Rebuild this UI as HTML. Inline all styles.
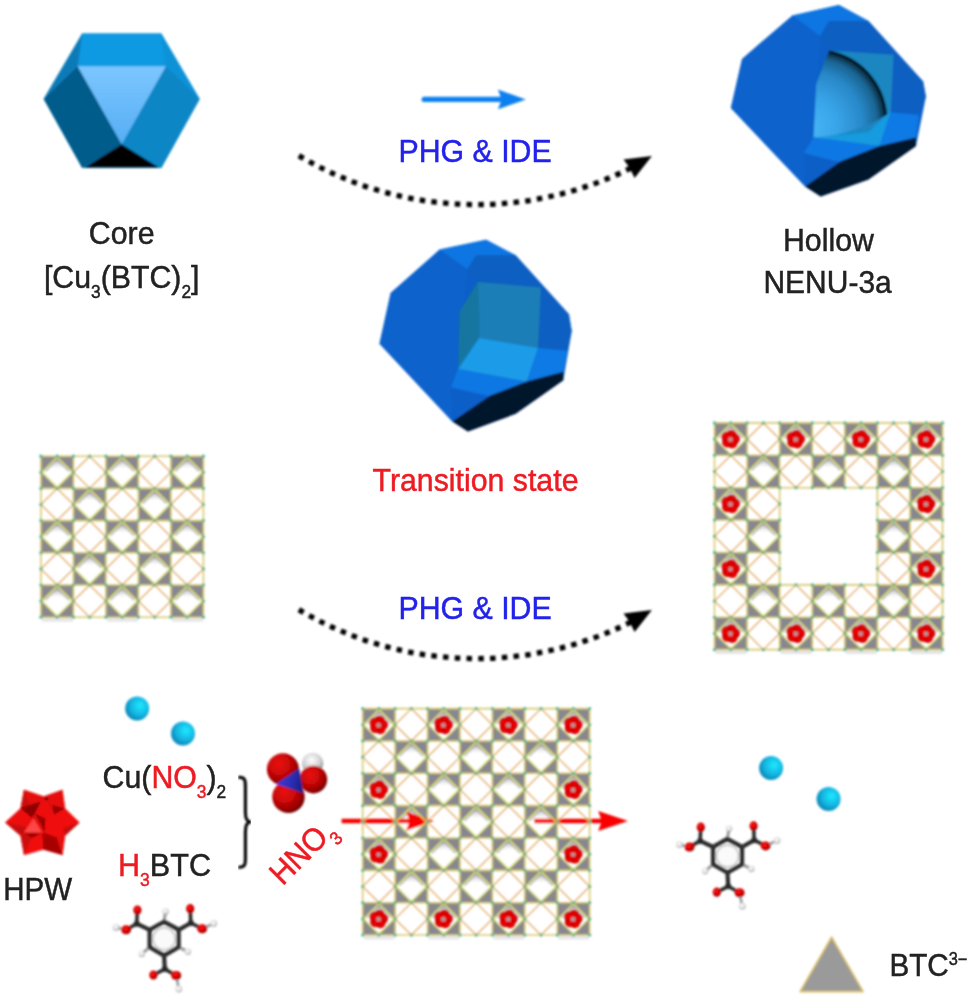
<!DOCTYPE html>
<html lang="en">
<head>
<meta charset="utf-8">
<title>Core to hollow NENU-3a schematic</title>
<style>
html,body{margin:0;padding:0;background:#ffffff;}
body{width:973px;height:998px;overflow:hidden;position:relative;font-family:"Liberation Sans",sans-serif;}
svg text{font-family:"Liberation Sans",sans-serif;}
</style>
</head>
<body>
<svg width="973" height="998" viewBox="0 0 973 998" style="position:absolute;left:0;top:0;display:block">
<defs>
<filter id="b5" x="-5%" y="-5%" width="110%" height="110%"><feGaussianBlur stdDeviation="0.8"/></filter>
<filter id="b6" x="-5%" y="-5%" width="110%" height="110%"><feGaussianBlur stdDeviation="1.0"/></filter>
<filter id="bg" x="-5%" y="-5%" width="110%" height="110%"><feGaussianBlur stdDeviation="0.95"/></filter>
<filter id="b8" x="-5%" y="-5%" width="110%" height="110%"><feGaussianBlur stdDeviation="1.05"/></filter>
<filter id="bt" x="-5%" y="-20%" width="110%" height="140%"><feGaussianBlur stdDeviation="0.65"/></filter>
<linearGradient id="dsh" x1="0" y1="0" x2="0" y2="1"><stop offset="0" stop-color="#88878f" stop-opacity="0.9"/><stop offset="0.1" stop-color="#908f98" stop-opacity="0.62"/><stop offset="0.22" stop-color="#a0a0a8" stop-opacity="0.3"/><stop offset="0.36" stop-color="#b0b0b8" stop-opacity="0"/></linearGradient>
<radialGradient id="redflower" cx="0.5" cy="0.5" r="0.5"><stop offset="0" stop-color="#f40000"/><stop offset="0.65" stop-color="#ea0000"/><stop offset="1" stop-color="#a80000"/></radialGradient>
<radialGradient id="cyan" cx="0.62" cy="0.38" r="0.72"><stop offset="0" stop-color="#1ee8fc"/><stop offset="0.3" stop-color="#18cdf0"/><stop offset="0.7" stop-color="#10a2d2"/><stop offset="1" stop-color="#0a78a4"/></radialGradient>
<radialGradient id="ored" cx="0.38" cy="0.34" r="0.72"><stop offset="0" stop-color="#ee1212"/><stop offset="0.5" stop-color="#c40606"/><stop offset="0.85" stop-color="#8a0101"/><stop offset="1" stop-color="#560000"/></radialGradient>
<radialGradient id="hwhite" cx="0.45" cy="0.35" r="0.7"><stop offset="0" stop-color="#ffffff"/><stop offset="0.6" stop-color="#d0d0d0"/><stop offset="1" stop-color="#6a6a6a"/></radialGradient>
<linearGradient id="nblue" x1="0" y1="0.4" x2="1" y2="0.6"><stop offset="0" stop-color="#3a3fe0"/><stop offset="0.6" stop-color="#2a2db0"/><stop offset="1" stop-color="#1c1e80"/></linearGradient>
<linearGradient id="tri" x1="0.5" y1="0" x2="0.5" y2="1"><stop offset="0" stop-color="#7cc6ff"/><stop offset="1" stop-color="#55aef4"/></linearGradient>
<radialGradient id="sph" gradientUnits="userSpaceOnUse" cx="816.1" cy="120.6" r="71.8" fx="804" fy="129"><stop offset="0" stop-color="#4ab8fa"/><stop offset="0.4" stop-color="#38a4e8"/><stop offset="0.7" stop-color="#2888c8"/><stop offset="0.87" stop-color="#1a6694"/><stop offset="0.94" stop-color="#0d3c58"/><stop offset="0.98" stop-color="#010a10"/><stop offset="1" stop-color="#000000"/></radialGradient>
<radialGradient id="mred" cx="0.42" cy="0.38" r="0.68"><stop offset="0" stop-color="#fa1414"/><stop offset="0.55" stop-color="#d80000"/><stop offset="1" stop-color="#7a0000"/></radialGradient>
<radialGradient id="hgr" cx="0.45" cy="0.4" r="0.65"><stop offset="0" stop-color="#ffffff"/><stop offset="0.55" stop-color="#e2e2e2"/><stop offset="1" stop-color="#8c8c8c"/></radialGradient>
</defs>
<rect width="973" height="998" fill="#ffffff"/>

<g filter="url(#b6)">
<polygon points="82.2,33.6 161.3,33.6 199.7,99.1 161.3,168.1 82.2,168.1 43.7,99.1" fill="#0c8cd2" />
<polygon points="82.2,33.6 161.3,33.6 165.8,66.3 77.7,66.3" fill="#0e9ae2" />
<polygon points="82.2,33.6 77.7,66.3 43.7,99.1" fill="#0a7ab8" />
<polygon points="161.3,33.6 199.7,99.1 165.8,66.3" fill="#1192d8" />
<polygon points="43.7,99.1 77.7,66.3 121.7,144.3 82.2,168.1" fill="#065b8b" />
<polygon points="199.7,99.1 165.8,66.3 121.7,144.3 161.3,168.1" fill="#0b86c6" />
<polygon points="77.7,66.3 165.8,66.3 121.7,144.3" fill="url(#tri)" />
<polygon points="121.7,144.3 159.0,167.4 84.4,167.4" fill="#000000" />
</g>
<g filter="url(#b5)">
<line x1="424.2" y1="99.4" x2="503" y2="99.4" stroke="#0d80f0" stroke-width="5.2" stroke-linecap="round"/>
<polygon points="525.8,99.4 498.0,89.6 501.5,99.4 498.0,109.2" fill="#0d80f0" />
</g>
<g filter="url(#b6)">
<path d="M298.88 155.62A345.74 345.74 0 0 0 631.96 167.51" fill="none" stroke="#000" stroke-width="5.3" stroke-dasharray="5.5 6.266"/>
<polygon points="651.9,155.9 623.5,159.6 629.4,167.4 634.6,178.1" fill="#000" />
<path d="M298.88 609.62A345.74 345.74 0 0 0 631.96 621.51" fill="none" stroke="#000" stroke-width="5.3" stroke-dasharray="5.5 6.266"/>
<polygon points="651.9,609.9 623.5,613.6 629.4,621.4 634.6,632.1" fill="#000" />
</g>
<g filter="url(#b8)">
<polygon points="792.6,15.4 838.9,5.1 868.4,21.0 923.1,81.4 925.9,96.8 916.0,145.9 868.4,179.6 820.7,196.4 805.2,186.6 730.9,108.0 742.1,58.9" fill="#0b5fc8" />
<polygon points="792.6,15.4 820.7,35.1 813.6,137.5 803.8,152.9 805.2,186.6 730.9,108.0 742.1,58.9" fill="#0c62cc" />
<polygon points="792.6,15.4 838.9,5.1 868.4,21.0 829.1,21.0 820.1,35.9" fill="#0c76e2" />
<polygon points="829.1,21.0 868.4,21.0 923.1,81.4 925.9,96.8 918.9,115.0 890.8,112.2 893.6,54.7 829.1,50.5 820.1,35.9" fill="#0a5fc2" />
<polygon points="829.1,50.5 893.6,54.7 890.8,112.2 879.6,145.9 813.6,137.5 816.4,84.2" fill="#1a86c0" />
<polygon points="813.6,137.5 879.6,145.9 890.8,112.2 885.2,115.6 868.4,131.9" fill="#189ae0" />
<path d="M829.1 50.5A71.3 71.3 0 0 1 887.1 114.5Q857.1 134.7 813.6 137.5L816.4 84.2Z" fill="url(#sph)"/>
<polygon points="890.8,112.2 918.9,115.0 916.0,138.0 879.6,145.9" fill="#0c7ae6" />
<polygon points="813.6,137.5 879.6,145.9 840.3,162.2 803.8,152.9" fill="#0c78e4" />
<polygon points="916.0,137.5 916.0,145.9 868.4,179.6 820.7,196.4 805.2,186.6 840.3,161.6 879.6,145.9" fill="#04142a" />
</g>
<g filter="url(#b8)">
<polygon points="439.8,249.6 486.1,239.8 515.6,255.3 568.9,314.2 571.7,331.0 563.3,380.2 515.6,413.8 467.9,431.5 452.4,421.4 379.5,343.7 390.7,293.1" fill="#0b5fc8" />
<polygon points="439.8,249.6 467.3,269.3 458.1,368.9 451.0,387.2 452.4,421.4 379.5,343.7 390.7,293.1" fill="#0c62cc" />
<polygon points="439.8,249.6 486.1,239.8 515.6,255.3 476.3,255.3 467.3,269.3" fill="#0c76e2" />
<polygon points="476.3,255.3 515.6,255.3 568.9,314.2 571.7,331.0 567.5,350.7 538.0,347.9 540.9,287.5 477.7,281.9 467.3,269.3" fill="#0a5fc2" />
<polygon points="477.7,281.9 540.9,287.5 538.0,347.9 479.1,338.1" fill="#1a7eb6" />
<polygon points="477.7,281.9 479.1,338.1 458.1,368.9 459.5,311.4" fill="#13769f" />
<polygon points="479.1,338.1 538.0,347.9 526.8,381.6 458.1,368.9" fill="#1a9ce8" />
<polygon points="538.0,347.9 567.5,350.7 563.3,372.3 526.8,381.6" fill="#0c7ae6" />
<polygon points="458.1,368.9 526.8,381.6 490.3,396.2 451.0,387.2" fill="#0c78e4" />
<polygon points="563.3,371.7 563.3,380.2 515.6,413.8 467.9,431.5 452.4,421.4 490.3,395.6 526.8,381.6" fill="#04142a" />
</g>
<g filter="url(#bg)">
<rect x="41.90" y="618.40" width="31.00" height="3.2" fill="#e4e4e8"/>
<rect x="106.90" y="618.40" width="31.00" height="3.2" fill="#e4e4e8"/>
<rect x="171.90" y="618.40" width="31.00" height="3.2" fill="#e4e4e8"/>
<rect x="40.90" y="456.20" width="32.50" height="32.20" fill="#88878f"/>
<polygon points="57.1,457.8 71.8,472.3 57.1,486.8 42.5,472.3" fill="#ffffff" />
<polygon points="57.1,457.8 71.8,472.3 57.1,486.8 42.5,472.3" fill="url(#dsh)" />
<path d="M44.50 470.30L57.15 457.80L69.80 470.30" fill="none" stroke="#8c8b94" stroke-opacity="0.5" stroke-width="4.6" stroke-linejoin="miter"/>
<rect x="105.90" y="456.20" width="32.50" height="32.20" fill="#88878f"/>
<polygon points="122.2,457.8 136.8,472.3 122.2,486.8 107.5,472.3" fill="#ffffff" />
<polygon points="122.2,457.8 136.8,472.3 122.2,486.8 107.5,472.3" fill="url(#dsh)" />
<path d="M109.50 470.30L122.15 457.80L134.80 470.30" fill="none" stroke="#8c8b94" stroke-opacity="0.5" stroke-width="4.6" stroke-linejoin="miter"/>
<rect x="170.90" y="456.20" width="32.50" height="32.20" fill="#88878f"/>
<polygon points="187.2,457.8 201.8,472.3 187.2,486.8 172.5,472.3" fill="#ffffff" />
<polygon points="187.2,457.8 201.8,472.3 187.2,486.8 172.5,472.3" fill="url(#dsh)" />
<path d="M174.50 470.30L187.15 457.80L199.80 470.30" fill="none" stroke="#8c8b94" stroke-opacity="0.5" stroke-width="4.6" stroke-linejoin="miter"/>
<rect x="73.40" y="488.40" width="32.50" height="32.20" fill="#88878f"/>
<polygon points="89.7,490.0 104.3,504.5 89.7,519.0 75.0,504.5" fill="#ffffff" />
<polygon points="89.7,490.0 104.3,504.5 89.7,519.0 75.0,504.5" fill="url(#dsh)" />
<path d="M77.00 502.50L89.65 490.00L102.30 502.50" fill="none" stroke="#8c8b94" stroke-opacity="0.5" stroke-width="4.6" stroke-linejoin="miter"/>
<rect x="138.40" y="488.40" width="32.50" height="32.20" fill="#88878f"/>
<polygon points="154.7,490.0 169.3,504.5 154.7,519.0 140.0,504.5" fill="#ffffff" />
<polygon points="154.7,490.0 169.3,504.5 154.7,519.0 140.0,504.5" fill="url(#dsh)" />
<path d="M142.00 502.50L154.65 490.00L167.30 502.50" fill="none" stroke="#8c8b94" stroke-opacity="0.5" stroke-width="4.6" stroke-linejoin="miter"/>
<rect x="40.90" y="520.60" width="32.50" height="32.20" fill="#88878f"/>
<polygon points="57.1,522.2 71.8,536.7 57.1,551.2 42.5,536.7" fill="#ffffff" />
<polygon points="57.1,522.2 71.8,536.7 57.1,551.2 42.5,536.7" fill="url(#dsh)" />
<path d="M44.50 534.70L57.15 522.20L69.80 534.70" fill="none" stroke="#8c8b94" stroke-opacity="0.5" stroke-width="4.6" stroke-linejoin="miter"/>
<rect x="105.90" y="520.60" width="32.50" height="32.20" fill="#88878f"/>
<polygon points="122.2,522.2 136.8,536.7 122.2,551.2 107.5,536.7" fill="#ffffff" />
<polygon points="122.2,522.2 136.8,536.7 122.2,551.2 107.5,536.7" fill="url(#dsh)" />
<path d="M109.50 534.70L122.15 522.20L134.80 534.70" fill="none" stroke="#8c8b94" stroke-opacity="0.5" stroke-width="4.6" stroke-linejoin="miter"/>
<rect x="170.90" y="520.60" width="32.50" height="32.20" fill="#88878f"/>
<polygon points="187.2,522.2 201.8,536.7 187.2,551.2 172.5,536.7" fill="#ffffff" />
<polygon points="187.2,522.2 201.8,536.7 187.2,551.2 172.5,536.7" fill="url(#dsh)" />
<path d="M174.50 534.70L187.15 522.20L199.80 534.70" fill="none" stroke="#8c8b94" stroke-opacity="0.5" stroke-width="4.6" stroke-linejoin="miter"/>
<rect x="73.40" y="552.80" width="32.50" height="32.20" fill="#88878f"/>
<polygon points="89.7,554.4 104.3,568.9 89.7,583.4 75.0,568.9" fill="#ffffff" />
<polygon points="89.7,554.4 104.3,568.9 89.7,583.4 75.0,568.9" fill="url(#dsh)" />
<path d="M77.00 566.90L89.65 554.40L102.30 566.90" fill="none" stroke="#8c8b94" stroke-opacity="0.5" stroke-width="4.6" stroke-linejoin="miter"/>
<rect x="138.40" y="552.80" width="32.50" height="32.20" fill="#88878f"/>
<polygon points="154.7,554.4 169.3,568.9 154.7,583.4 140.0,568.9" fill="#ffffff" />
<polygon points="154.7,554.4 169.3,568.9 154.7,583.4 140.0,568.9" fill="url(#dsh)" />
<path d="M142.00 566.90L154.65 554.40L167.30 566.90" fill="none" stroke="#8c8b94" stroke-opacity="0.5" stroke-width="4.6" stroke-linejoin="miter"/>
<rect x="40.90" y="585.00" width="32.50" height="32.20" fill="#88878f"/>
<polygon points="57.1,586.6 71.8,601.1 57.1,615.6 42.5,601.1" fill="#ffffff" />
<polygon points="57.1,586.6 71.8,601.1 57.1,615.6 42.5,601.1" fill="url(#dsh)" />
<path d="M44.50 599.10L57.15 586.60L69.80 599.10" fill="none" stroke="#8c8b94" stroke-opacity="0.5" stroke-width="4.6" stroke-linejoin="miter"/>
<rect x="105.90" y="585.00" width="32.50" height="32.20" fill="#88878f"/>
<polygon points="122.2,586.6 136.8,601.1 122.2,615.6 107.5,601.1" fill="#ffffff" />
<polygon points="122.2,586.6 136.8,601.1 122.2,615.6 107.5,601.1" fill="url(#dsh)" />
<path d="M109.50 599.10L122.15 586.60L134.80 599.10" fill="none" stroke="#8c8b94" stroke-opacity="0.5" stroke-width="4.6" stroke-linejoin="miter"/>
<rect x="170.90" y="585.00" width="32.50" height="32.20" fill="#88878f"/>
<polygon points="187.2,586.6 201.8,601.1 187.2,615.6 172.5,601.1" fill="#ffffff" />
<polygon points="187.2,586.6 201.8,601.1 187.2,615.6 172.5,601.1" fill="url(#dsh)" />
<path d="M174.50 599.10L187.15 586.60L199.80 599.10" fill="none" stroke="#8c8b94" stroke-opacity="0.5" stroke-width="4.6" stroke-linejoin="miter"/>
<path d="M57.15 457.20L72.40 472.30L57.15 487.40L41.90 472.30Z" fill="none" stroke="#dcde62" stroke-width="1.5"/>
<path d="M89.65 456.20L105.90 472.30L89.65 488.40L73.40 472.30Z" fill="none" stroke="#e4ad6c" stroke-width="1.35"/>
<path d="M122.15 457.20L137.40 472.30L122.15 487.40L106.90 472.30Z" fill="none" stroke="#dcde62" stroke-width="1.5"/>
<path d="M154.65 456.20L170.90 472.30L154.65 488.40L138.40 472.30Z" fill="none" stroke="#e4ad6c" stroke-width="1.35"/>
<path d="M187.15 457.20L202.40 472.30L187.15 487.40L171.90 472.30Z" fill="none" stroke="#dcde62" stroke-width="1.5"/>
<path d="M57.15 488.40L73.40 504.50L57.15 520.60L40.90 504.50Z" fill="none" stroke="#e4ad6c" stroke-width="1.35"/>
<path d="M89.65 489.40L104.90 504.50L89.65 519.60L74.40 504.50Z" fill="none" stroke="#dcde62" stroke-width="1.5"/>
<path d="M122.15 488.40L138.40 504.50L122.15 520.60L105.90 504.50Z" fill="none" stroke="#e4ad6c" stroke-width="1.35"/>
<path d="M154.65 489.40L169.90 504.50L154.65 519.60L139.40 504.50Z" fill="none" stroke="#dcde62" stroke-width="1.5"/>
<path d="M187.15 488.40L203.40 504.50L187.15 520.60L170.90 504.50Z" fill="none" stroke="#e4ad6c" stroke-width="1.35"/>
<path d="M57.15 521.60L72.40 536.70L57.15 551.80L41.90 536.70Z" fill="none" stroke="#dcde62" stroke-width="1.5"/>
<path d="M89.65 520.60L105.90 536.70L89.65 552.80L73.40 536.70Z" fill="none" stroke="#e4ad6c" stroke-width="1.35"/>
<path d="M122.15 521.60L137.40 536.70L122.15 551.80L106.90 536.70Z" fill="none" stroke="#dcde62" stroke-width="1.5"/>
<path d="M154.65 520.60L170.90 536.70L154.65 552.80L138.40 536.70Z" fill="none" stroke="#e4ad6c" stroke-width="1.35"/>
<path d="M187.15 521.60L202.40 536.70L187.15 551.80L171.90 536.70Z" fill="none" stroke="#dcde62" stroke-width="1.5"/>
<path d="M57.15 552.80L73.40 568.90L57.15 585.00L40.90 568.90Z" fill="none" stroke="#e4ad6c" stroke-width="1.35"/>
<path d="M89.65 553.80L104.90 568.90L89.65 584.00L74.40 568.90Z" fill="none" stroke="#dcde62" stroke-width="1.5"/>
<path d="M122.15 552.80L138.40 568.90L122.15 585.00L105.90 568.90Z" fill="none" stroke="#e4ad6c" stroke-width="1.35"/>
<path d="M154.65 553.80L169.90 568.90L154.65 584.00L139.40 568.90Z" fill="none" stroke="#dcde62" stroke-width="1.5"/>
<path d="M187.15 552.80L203.40 568.90L187.15 585.00L170.90 568.90Z" fill="none" stroke="#e4ad6c" stroke-width="1.35"/>
<path d="M57.15 586.00L72.40 601.10L57.15 616.20L41.90 601.10Z" fill="none" stroke="#dcde62" stroke-width="1.5"/>
<path d="M89.65 585.00L105.90 601.10L89.65 617.20L73.40 601.10Z" fill="none" stroke="#e4ad6c" stroke-width="1.35"/>
<path d="M122.15 586.00L137.40 601.10L122.15 616.20L106.90 601.10Z" fill="none" stroke="#dcde62" stroke-width="1.5"/>
<path d="M154.65 585.00L170.90 601.10L154.65 617.20L138.40 601.10Z" fill="none" stroke="#e4ad6c" stroke-width="1.35"/>
<path d="M187.15 586.00L202.40 601.10L187.15 616.20L171.90 601.10Z" fill="none" stroke="#dcde62" stroke-width="1.5"/>
<line x1="40.90" y1="456.20" x2="40.90" y2="488.40" stroke="#d6c96c" stroke-width="1.6"/>
<line x1="40.90" y1="456.20" x2="73.40" y2="456.20" stroke="#d6c96c" stroke-width="1.6"/>
<line x1="40.90" y1="488.40" x2="40.90" y2="520.60" stroke="#d6c96c" stroke-width="1.6"/>
<line x1="73.40" y1="456.20" x2="105.90" y2="456.20" stroke="#d6c96c" stroke-width="1.6"/>
<line x1="40.90" y1="520.60" x2="40.90" y2="552.80" stroke="#d6c96c" stroke-width="1.6"/>
<line x1="105.90" y1="456.20" x2="138.40" y2="456.20" stroke="#d6c96c" stroke-width="1.6"/>
<line x1="40.90" y1="552.80" x2="40.90" y2="585.00" stroke="#d6c96c" stroke-width="1.6"/>
<line x1="138.40" y1="456.20" x2="170.90" y2="456.20" stroke="#d6c96c" stroke-width="1.6"/>
<line x1="40.90" y1="585.00" x2="40.90" y2="617.20" stroke="#d6c96c" stroke-width="1.6"/>
<line x1="170.90" y1="456.20" x2="203.40" y2="456.20" stroke="#d6c96c" stroke-width="1.6"/>
<line x1="73.40" y1="456.20" x2="73.40" y2="488.40" stroke="#d6c96c" stroke-width="1.6"/>
<line x1="40.90" y1="488.40" x2="73.40" y2="488.40" stroke="#d6c96c" stroke-width="1.6"/>
<line x1="73.40" y1="488.40" x2="73.40" y2="520.60" stroke="#d6c96c" stroke-width="1.6"/>
<line x1="73.40" y1="488.40" x2="105.90" y2="488.40" stroke="#d6c96c" stroke-width="1.6"/>
<line x1="73.40" y1="520.60" x2="73.40" y2="552.80" stroke="#d6c96c" stroke-width="1.6"/>
<line x1="105.90" y1="488.40" x2="138.40" y2="488.40" stroke="#d6c96c" stroke-width="1.6"/>
<line x1="73.40" y1="552.80" x2="73.40" y2="585.00" stroke="#d6c96c" stroke-width="1.6"/>
<line x1="138.40" y1="488.40" x2="170.90" y2="488.40" stroke="#d6c96c" stroke-width="1.6"/>
<line x1="73.40" y1="585.00" x2="73.40" y2="617.20" stroke="#d6c96c" stroke-width="1.6"/>
<line x1="170.90" y1="488.40" x2="203.40" y2="488.40" stroke="#d6c96c" stroke-width="1.6"/>
<line x1="105.90" y1="456.20" x2="105.90" y2="488.40" stroke="#d6c96c" stroke-width="1.6"/>
<line x1="40.90" y1="520.60" x2="73.40" y2="520.60" stroke="#d6c96c" stroke-width="1.6"/>
<line x1="105.90" y1="488.40" x2="105.90" y2="520.60" stroke="#d6c96c" stroke-width="1.6"/>
<line x1="73.40" y1="520.60" x2="105.90" y2="520.60" stroke="#d6c96c" stroke-width="1.6"/>
<line x1="105.90" y1="520.60" x2="105.90" y2="552.80" stroke="#d6c96c" stroke-width="1.6"/>
<line x1="105.90" y1="520.60" x2="138.40" y2="520.60" stroke="#d6c96c" stroke-width="1.6"/>
<line x1="105.90" y1="552.80" x2="105.90" y2="585.00" stroke="#d6c96c" stroke-width="1.6"/>
<line x1="138.40" y1="520.60" x2="170.90" y2="520.60" stroke="#d6c96c" stroke-width="1.6"/>
<line x1="105.90" y1="585.00" x2="105.90" y2="617.20" stroke="#d6c96c" stroke-width="1.6"/>
<line x1="170.90" y1="520.60" x2="203.40" y2="520.60" stroke="#d6c96c" stroke-width="1.6"/>
<line x1="138.40" y1="456.20" x2="138.40" y2="488.40" stroke="#d6c96c" stroke-width="1.6"/>
<line x1="40.90" y1="552.80" x2="73.40" y2="552.80" stroke="#d6c96c" stroke-width="1.6"/>
<line x1="138.40" y1="488.40" x2="138.40" y2="520.60" stroke="#d6c96c" stroke-width="1.6"/>
<line x1="73.40" y1="552.80" x2="105.90" y2="552.80" stroke="#d6c96c" stroke-width="1.6"/>
<line x1="138.40" y1="520.60" x2="138.40" y2="552.80" stroke="#d6c96c" stroke-width="1.6"/>
<line x1="105.90" y1="552.80" x2="138.40" y2="552.80" stroke="#d6c96c" stroke-width="1.6"/>
<line x1="138.40" y1="552.80" x2="138.40" y2="585.00" stroke="#d6c96c" stroke-width="1.6"/>
<line x1="138.40" y1="552.80" x2="170.90" y2="552.80" stroke="#d6c96c" stroke-width="1.6"/>
<line x1="138.40" y1="585.00" x2="138.40" y2="617.20" stroke="#d6c96c" stroke-width="1.6"/>
<line x1="170.90" y1="552.80" x2="203.40" y2="552.80" stroke="#d6c96c" stroke-width="1.6"/>
<line x1="170.90" y1="456.20" x2="170.90" y2="488.40" stroke="#d6c96c" stroke-width="1.6"/>
<line x1="40.90" y1="585.00" x2="73.40" y2="585.00" stroke="#d6c96c" stroke-width="1.6"/>
<line x1="170.90" y1="488.40" x2="170.90" y2="520.60" stroke="#d6c96c" stroke-width="1.6"/>
<line x1="73.40" y1="585.00" x2="105.90" y2="585.00" stroke="#d6c96c" stroke-width="1.6"/>
<line x1="170.90" y1="520.60" x2="170.90" y2="552.80" stroke="#d6c96c" stroke-width="1.6"/>
<line x1="105.90" y1="585.00" x2="138.40" y2="585.00" stroke="#d6c96c" stroke-width="1.6"/>
<line x1="170.90" y1="552.80" x2="170.90" y2="585.00" stroke="#d6c96c" stroke-width="1.6"/>
<line x1="138.40" y1="585.00" x2="170.90" y2="585.00" stroke="#d6c96c" stroke-width="1.6"/>
<line x1="170.90" y1="585.00" x2="170.90" y2="617.20" stroke="#d6c96c" stroke-width="1.6"/>
<line x1="170.90" y1="585.00" x2="203.40" y2="585.00" stroke="#d6c96c" stroke-width="1.6"/>
<line x1="203.40" y1="456.20" x2="203.40" y2="488.40" stroke="#d6c96c" stroke-width="1.6"/>
<line x1="40.90" y1="617.20" x2="73.40" y2="617.20" stroke="#d6c96c" stroke-width="1.6"/>
<line x1="203.40" y1="488.40" x2="203.40" y2="520.60" stroke="#d6c96c" stroke-width="1.6"/>
<line x1="73.40" y1="617.20" x2="105.90" y2="617.20" stroke="#d6c96c" stroke-width="1.6"/>
<line x1="203.40" y1="520.60" x2="203.40" y2="552.80" stroke="#d6c96c" stroke-width="1.6"/>
<line x1="105.90" y1="617.20" x2="138.40" y2="617.20" stroke="#d6c96c" stroke-width="1.6"/>
<line x1="203.40" y1="552.80" x2="203.40" y2="585.00" stroke="#d6c96c" stroke-width="1.6"/>
<line x1="138.40" y1="617.20" x2="170.90" y2="617.20" stroke="#d6c96c" stroke-width="1.6"/>
<line x1="203.40" y1="585.00" x2="203.40" y2="617.20" stroke="#d6c96c" stroke-width="1.6"/>
<line x1="170.90" y1="617.20" x2="203.40" y2="617.20" stroke="#d6c96c" stroke-width="1.6"/>
<circle cx="40.90" cy="456.20" r="1.6" fill="#3fb597"/>
<circle cx="57.15" cy="456.20" r="1.6" fill="#3fb597"/>
<circle cx="73.40" cy="456.20" r="1.6" fill="#3fb597"/>
<circle cx="89.65" cy="456.20" r="1.6" fill="#3fb597"/>
<circle cx="105.90" cy="456.20" r="1.6" fill="#3fb597"/>
<circle cx="122.15" cy="456.20" r="1.6" fill="#3fb597"/>
<circle cx="138.40" cy="456.20" r="1.6" fill="#3fb597"/>
<circle cx="154.65" cy="456.20" r="1.6" fill="#3fb597"/>
<circle cx="170.90" cy="456.20" r="1.6" fill="#3fb597"/>
<circle cx="187.15" cy="456.20" r="1.6" fill="#3fb597"/>
<circle cx="203.40" cy="456.20" r="1.6" fill="#3fb597"/>
<circle cx="40.90" cy="472.30" r="1.6" fill="#3fb597"/>
<circle cx="73.40" cy="472.30" r="1.6" fill="#3fb597"/>
<circle cx="105.90" cy="472.30" r="1.6" fill="#3fb597"/>
<circle cx="138.40" cy="472.30" r="1.6" fill="#3fb597"/>
<circle cx="170.90" cy="472.30" r="1.6" fill="#3fb597"/>
<circle cx="203.40" cy="472.30" r="1.6" fill="#3fb597"/>
<circle cx="40.90" cy="488.40" r="1.6" fill="#3fb597"/>
<circle cx="57.15" cy="488.40" r="1.6" fill="#3fb597"/>
<circle cx="73.40" cy="488.40" r="1.6" fill="#3fb597"/>
<circle cx="89.65" cy="488.40" r="1.6" fill="#3fb597"/>
<circle cx="105.90" cy="488.40" r="1.6" fill="#3fb597"/>
<circle cx="122.15" cy="488.40" r="1.6" fill="#3fb597"/>
<circle cx="138.40" cy="488.40" r="1.6" fill="#3fb597"/>
<circle cx="154.65" cy="488.40" r="1.6" fill="#3fb597"/>
<circle cx="170.90" cy="488.40" r="1.6" fill="#3fb597"/>
<circle cx="187.15" cy="488.40" r="1.6" fill="#3fb597"/>
<circle cx="203.40" cy="488.40" r="1.6" fill="#3fb597"/>
<circle cx="40.90" cy="504.50" r="1.6" fill="#3fb597"/>
<circle cx="73.40" cy="504.50" r="1.6" fill="#3fb597"/>
<circle cx="105.90" cy="504.50" r="1.6" fill="#3fb597"/>
<circle cx="138.40" cy="504.50" r="1.6" fill="#3fb597"/>
<circle cx="170.90" cy="504.50" r="1.6" fill="#3fb597"/>
<circle cx="203.40" cy="504.50" r="1.6" fill="#3fb597"/>
<circle cx="40.90" cy="520.60" r="1.6" fill="#3fb597"/>
<circle cx="57.15" cy="520.60" r="1.6" fill="#3fb597"/>
<circle cx="73.40" cy="520.60" r="1.6" fill="#3fb597"/>
<circle cx="89.65" cy="520.60" r="1.6" fill="#3fb597"/>
<circle cx="105.90" cy="520.60" r="1.6" fill="#3fb597"/>
<circle cx="122.15" cy="520.60" r="1.6" fill="#3fb597"/>
<circle cx="138.40" cy="520.60" r="1.6" fill="#3fb597"/>
<circle cx="154.65" cy="520.60" r="1.6" fill="#3fb597"/>
<circle cx="170.90" cy="520.60" r="1.6" fill="#3fb597"/>
<circle cx="187.15" cy="520.60" r="1.6" fill="#3fb597"/>
<circle cx="203.40" cy="520.60" r="1.6" fill="#3fb597"/>
<circle cx="40.90" cy="536.70" r="1.6" fill="#3fb597"/>
<circle cx="73.40" cy="536.70" r="1.6" fill="#3fb597"/>
<circle cx="105.90" cy="536.70" r="1.6" fill="#3fb597"/>
<circle cx="138.40" cy="536.70" r="1.6" fill="#3fb597"/>
<circle cx="170.90" cy="536.70" r="1.6" fill="#3fb597"/>
<circle cx="203.40" cy="536.70" r="1.6" fill="#3fb597"/>
<circle cx="40.90" cy="552.80" r="1.6" fill="#3fb597"/>
<circle cx="57.15" cy="552.80" r="1.6" fill="#3fb597"/>
<circle cx="73.40" cy="552.80" r="1.6" fill="#3fb597"/>
<circle cx="89.65" cy="552.80" r="1.6" fill="#3fb597"/>
<circle cx="105.90" cy="552.80" r="1.6" fill="#3fb597"/>
<circle cx="122.15" cy="552.80" r="1.6" fill="#3fb597"/>
<circle cx="138.40" cy="552.80" r="1.6" fill="#3fb597"/>
<circle cx="154.65" cy="552.80" r="1.6" fill="#3fb597"/>
<circle cx="170.90" cy="552.80" r="1.6" fill="#3fb597"/>
<circle cx="187.15" cy="552.80" r="1.6" fill="#3fb597"/>
<circle cx="203.40" cy="552.80" r="1.6" fill="#3fb597"/>
<circle cx="40.90" cy="568.90" r="1.6" fill="#3fb597"/>
<circle cx="73.40" cy="568.90" r="1.6" fill="#3fb597"/>
<circle cx="105.90" cy="568.90" r="1.6" fill="#3fb597"/>
<circle cx="138.40" cy="568.90" r="1.6" fill="#3fb597"/>
<circle cx="170.90" cy="568.90" r="1.6" fill="#3fb597"/>
<circle cx="203.40" cy="568.90" r="1.6" fill="#3fb597"/>
<circle cx="40.90" cy="585.00" r="1.6" fill="#3fb597"/>
<circle cx="57.15" cy="585.00" r="1.6" fill="#3fb597"/>
<circle cx="73.40" cy="585.00" r="1.6" fill="#3fb597"/>
<circle cx="89.65" cy="585.00" r="1.6" fill="#3fb597"/>
<circle cx="105.90" cy="585.00" r="1.6" fill="#3fb597"/>
<circle cx="122.15" cy="585.00" r="1.6" fill="#3fb597"/>
<circle cx="138.40" cy="585.00" r="1.6" fill="#3fb597"/>
<circle cx="154.65" cy="585.00" r="1.6" fill="#3fb597"/>
<circle cx="170.90" cy="585.00" r="1.6" fill="#3fb597"/>
<circle cx="187.15" cy="585.00" r="1.6" fill="#3fb597"/>
<circle cx="203.40" cy="585.00" r="1.6" fill="#3fb597"/>
<circle cx="40.90" cy="601.10" r="1.6" fill="#3fb597"/>
<circle cx="73.40" cy="601.10" r="1.6" fill="#3fb597"/>
<circle cx="105.90" cy="601.10" r="1.6" fill="#3fb597"/>
<circle cx="138.40" cy="601.10" r="1.6" fill="#3fb597"/>
<circle cx="170.90" cy="601.10" r="1.6" fill="#3fb597"/>
<circle cx="203.40" cy="601.10" r="1.6" fill="#3fb597"/>
<circle cx="40.90" cy="617.20" r="1.6" fill="#3fb597"/>
<circle cx="57.15" cy="617.20" r="1.6" fill="#3fb597"/>
<circle cx="73.40" cy="617.20" r="1.6" fill="#3fb597"/>
<circle cx="89.65" cy="617.20" r="1.6" fill="#3fb597"/>
<circle cx="105.90" cy="617.20" r="1.6" fill="#3fb597"/>
<circle cx="122.15" cy="617.20" r="1.6" fill="#3fb597"/>
<circle cx="138.40" cy="617.20" r="1.6" fill="#3fb597"/>
<circle cx="154.65" cy="617.20" r="1.6" fill="#3fb597"/>
<circle cx="170.90" cy="617.20" r="1.6" fill="#3fb597"/>
<circle cx="187.15" cy="617.20" r="1.6" fill="#3fb597"/>
<circle cx="203.40" cy="617.20" r="1.6" fill="#3fb597"/>
</g>
<g filter="url(#b5)">
</g>
<g filter="url(#bg)">
<rect x="715.50" y="650.83" width="31.08" height="3.2" fill="#e4e4e8"/>
<rect x="780.66" y="650.83" width="31.08" height="3.2" fill="#e4e4e8"/>
<rect x="845.82" y="650.83" width="31.08" height="3.2" fill="#e4e4e8"/>
<rect x="910.98" y="650.83" width="31.08" height="3.2" fill="#e4e4e8"/>
<rect x="714.50" y="422.90" width="32.58" height="32.39" fill="#88878f"/>
<polygon points="730.8,424.5 745.5,439.1 730.8,453.7 716.1,439.1" fill="#ffffff" />
<polygon points="730.8,424.5 745.5,439.1 730.8,453.7 716.1,439.1" fill="url(#dsh)" />
<path d="M718.10 437.09L730.79 424.50L743.48 437.09" fill="none" stroke="#8c8b94" stroke-opacity="0.5" stroke-width="4.6" stroke-linejoin="miter"/>
<rect x="779.66" y="422.90" width="32.58" height="32.39" fill="#88878f"/>
<polygon points="795.9,424.5 810.6,439.1 795.9,453.7 781.3,439.1" fill="#ffffff" />
<polygon points="795.9,424.5 810.6,439.1 795.9,453.7 781.3,439.1" fill="url(#dsh)" />
<path d="M783.26 437.09L795.95 424.50L808.64 437.09" fill="none" stroke="#8c8b94" stroke-opacity="0.5" stroke-width="4.6" stroke-linejoin="miter"/>
<rect x="844.82" y="422.90" width="32.58" height="32.39" fill="#88878f"/>
<polygon points="861.1,424.5 875.8,439.1 861.1,453.7 846.4,439.1" fill="#ffffff" />
<polygon points="861.1,424.5 875.8,439.1 861.1,453.7 846.4,439.1" fill="url(#dsh)" />
<path d="M848.42 437.09L861.11 424.50L873.80 437.09" fill="none" stroke="#8c8b94" stroke-opacity="0.5" stroke-width="4.6" stroke-linejoin="miter"/>
<rect x="909.98" y="422.90" width="32.58" height="32.39" fill="#88878f"/>
<polygon points="926.3,424.5 941.0,439.1 926.3,453.7 911.6,439.1" fill="#ffffff" />
<polygon points="926.3,424.5 941.0,439.1 926.3,453.7 911.6,439.1" fill="url(#dsh)" />
<path d="M913.58 437.09L926.27 424.50L938.96 437.09" fill="none" stroke="#8c8b94" stroke-opacity="0.5" stroke-width="4.6" stroke-linejoin="miter"/>
<rect x="747.08" y="455.29" width="32.58" height="32.39" fill="#88878f"/>
<polygon points="763.4,456.9 778.1,471.5 763.4,486.1 748.7,471.5" fill="#ffffff" />
<polygon points="763.4,456.9 778.1,471.5 763.4,486.1 748.7,471.5" fill="url(#dsh)" />
<path d="M750.68 469.48L763.37 456.89L776.06 469.48" fill="none" stroke="#8c8b94" stroke-opacity="0.5" stroke-width="4.6" stroke-linejoin="miter"/>
<rect x="812.24" y="455.29" width="32.58" height="32.39" fill="#88878f"/>
<polygon points="828.5,456.9 843.2,471.5 828.5,486.1 813.8,471.5" fill="#ffffff" />
<polygon points="828.5,456.9 843.2,471.5 828.5,486.1 813.8,471.5" fill="url(#dsh)" />
<path d="M815.84 469.48L828.53 456.89L841.22 469.48" fill="none" stroke="#8c8b94" stroke-opacity="0.5" stroke-width="4.6" stroke-linejoin="miter"/>
<rect x="877.40" y="455.29" width="32.58" height="32.39" fill="#88878f"/>
<polygon points="893.7,456.9 908.4,471.5 893.7,486.1 879.0,471.5" fill="#ffffff" />
<polygon points="893.7,456.9 908.4,471.5 893.7,486.1 879.0,471.5" fill="url(#dsh)" />
<path d="M881.00 469.48L893.69 456.89L906.38 469.48" fill="none" stroke="#8c8b94" stroke-opacity="0.5" stroke-width="4.6" stroke-linejoin="miter"/>
<rect x="714.50" y="487.68" width="32.58" height="32.39" fill="#88878f"/>
<polygon points="730.8,489.3 745.5,503.9 730.8,518.5 716.1,503.9" fill="#ffffff" />
<polygon points="730.8,489.3 745.5,503.9 730.8,518.5 716.1,503.9" fill="url(#dsh)" />
<path d="M718.10 501.87L730.79 489.28L743.48 501.87" fill="none" stroke="#8c8b94" stroke-opacity="0.5" stroke-width="4.6" stroke-linejoin="miter"/>
<rect x="909.98" y="487.68" width="32.58" height="32.39" fill="#88878f"/>
<polygon points="926.3,489.3 941.0,503.9 926.3,518.5 911.6,503.9" fill="#ffffff" />
<polygon points="926.3,489.3 941.0,503.9 926.3,518.5 911.6,503.9" fill="url(#dsh)" />
<path d="M913.58 501.87L926.27 489.28L938.96 501.87" fill="none" stroke="#8c8b94" stroke-opacity="0.5" stroke-width="4.6" stroke-linejoin="miter"/>
<rect x="747.08" y="520.07" width="32.58" height="32.39" fill="#88878f"/>
<polygon points="763.4,521.7 778.1,536.3 763.4,550.9 748.7,536.3" fill="#ffffff" />
<polygon points="763.4,521.7 778.1,536.3 763.4,550.9 748.7,536.3" fill="url(#dsh)" />
<path d="M750.68 534.26L763.37 521.67L776.06 534.26" fill="none" stroke="#8c8b94" stroke-opacity="0.5" stroke-width="4.6" stroke-linejoin="miter"/>
<rect x="877.40" y="520.07" width="32.58" height="32.39" fill="#88878f"/>
<polygon points="893.7,521.7 908.4,536.3 893.7,550.9 879.0,536.3" fill="#ffffff" />
<polygon points="893.7,521.7 908.4,536.3 893.7,550.9 879.0,536.3" fill="url(#dsh)" />
<path d="M881.00 534.26L893.69 521.67L906.38 534.26" fill="none" stroke="#8c8b94" stroke-opacity="0.5" stroke-width="4.6" stroke-linejoin="miter"/>
<rect x="714.50" y="552.46" width="32.58" height="32.39" fill="#88878f"/>
<polygon points="730.8,554.1 745.5,568.7 730.8,583.2 716.1,568.7" fill="#ffffff" />
<polygon points="730.8,554.1 745.5,568.7 730.8,583.2 716.1,568.7" fill="url(#dsh)" />
<path d="M718.10 566.66L730.79 554.06L743.48 566.66" fill="none" stroke="#8c8b94" stroke-opacity="0.5" stroke-width="4.6" stroke-linejoin="miter"/>
<rect x="909.98" y="552.46" width="32.58" height="32.39" fill="#88878f"/>
<polygon points="926.3,554.1 941.0,568.7 926.3,583.2 911.6,568.7" fill="#ffffff" />
<polygon points="926.3,554.1 941.0,568.7 926.3,583.2 911.6,568.7" fill="url(#dsh)" />
<path d="M913.58 566.66L926.27 554.06L938.96 566.66" fill="none" stroke="#8c8b94" stroke-opacity="0.5" stroke-width="4.6" stroke-linejoin="miter"/>
<rect x="747.08" y="584.85" width="32.58" height="32.39" fill="#88878f"/>
<polygon points="763.4,586.4 778.1,601.0 763.4,615.6 748.7,601.0" fill="#ffffff" />
<polygon points="763.4,586.4 778.1,601.0 763.4,615.6 748.7,601.0" fill="url(#dsh)" />
<path d="M750.68 599.04L763.37 586.45L776.06 599.04" fill="none" stroke="#8c8b94" stroke-opacity="0.5" stroke-width="4.6" stroke-linejoin="miter"/>
<rect x="812.24" y="584.85" width="32.58" height="32.39" fill="#88878f"/>
<polygon points="828.5,586.4 843.2,601.0 828.5,615.6 813.8,601.0" fill="#ffffff" />
<polygon points="828.5,586.4 843.2,601.0 828.5,615.6 813.8,601.0" fill="url(#dsh)" />
<path d="M815.84 599.04L828.53 586.45L841.22 599.04" fill="none" stroke="#8c8b94" stroke-opacity="0.5" stroke-width="4.6" stroke-linejoin="miter"/>
<rect x="877.40" y="584.85" width="32.58" height="32.39" fill="#88878f"/>
<polygon points="893.7,586.4 908.4,601.0 893.7,615.6 879.0,601.0" fill="#ffffff" />
<polygon points="893.7,586.4 908.4,601.0 893.7,615.6 879.0,601.0" fill="url(#dsh)" />
<path d="M881.00 599.04L893.69 586.45L906.38 599.04" fill="none" stroke="#8c8b94" stroke-opacity="0.5" stroke-width="4.6" stroke-linejoin="miter"/>
<rect x="714.50" y="617.24" width="32.58" height="32.39" fill="#88878f"/>
<polygon points="730.8,618.8 745.5,633.4 730.8,648.0 716.1,633.4" fill="#ffffff" />
<polygon points="730.8,618.8 745.5,633.4 730.8,648.0 716.1,633.4" fill="url(#dsh)" />
<path d="M718.10 631.44L730.79 618.84L743.48 631.44" fill="none" stroke="#8c8b94" stroke-opacity="0.5" stroke-width="4.6" stroke-linejoin="miter"/>
<rect x="779.66" y="617.24" width="32.58" height="32.39" fill="#88878f"/>
<polygon points="795.9,618.8 810.6,633.4 795.9,648.0 781.3,633.4" fill="#ffffff" />
<polygon points="795.9,618.8 810.6,633.4 795.9,648.0 781.3,633.4" fill="url(#dsh)" />
<path d="M783.26 631.44L795.95 618.84L808.64 631.44" fill="none" stroke="#8c8b94" stroke-opacity="0.5" stroke-width="4.6" stroke-linejoin="miter"/>
<rect x="844.82" y="617.24" width="32.58" height="32.39" fill="#88878f"/>
<polygon points="861.1,618.8 875.8,633.4 861.1,648.0 846.4,633.4" fill="#ffffff" />
<polygon points="861.1,618.8 875.8,633.4 861.1,648.0 846.4,633.4" fill="url(#dsh)" />
<path d="M848.42 631.44L861.11 618.84L873.80 631.44" fill="none" stroke="#8c8b94" stroke-opacity="0.5" stroke-width="4.6" stroke-linejoin="miter"/>
<rect x="909.98" y="617.24" width="32.58" height="32.39" fill="#88878f"/>
<polygon points="926.3,618.8 941.0,633.4 926.3,648.0 911.6,633.4" fill="#ffffff" />
<polygon points="926.3,618.8 941.0,633.4 926.3,648.0 911.6,633.4" fill="url(#dsh)" />
<path d="M913.58 631.44L926.27 618.84L938.96 631.44" fill="none" stroke="#8c8b94" stroke-opacity="0.5" stroke-width="4.6" stroke-linejoin="miter"/>
<path d="M730.79 423.90L746.08 439.09L730.79 454.29L715.50 439.09Z" fill="none" stroke="#dcde62" stroke-width="1.5"/>
<path d="M763.37 422.90L779.66 439.09L763.37 455.29L747.08 439.09Z" fill="none" stroke="#e4ad6c" stroke-width="1.35"/>
<path d="M795.95 423.90L811.24 439.09L795.95 454.29L780.66 439.09Z" fill="none" stroke="#dcde62" stroke-width="1.5"/>
<path d="M828.53 422.90L844.82 439.09L828.53 455.29L812.24 439.09Z" fill="none" stroke="#e4ad6c" stroke-width="1.35"/>
<path d="M861.11 423.90L876.40 439.09L861.11 454.29L845.82 439.09Z" fill="none" stroke="#dcde62" stroke-width="1.5"/>
<path d="M893.69 422.90L909.98 439.09L893.69 455.29L877.40 439.09Z" fill="none" stroke="#e4ad6c" stroke-width="1.35"/>
<path d="M926.27 423.90L941.56 439.09L926.27 454.29L910.98 439.09Z" fill="none" stroke="#dcde62" stroke-width="1.5"/>
<path d="M730.79 455.29L747.08 471.48L730.79 487.68L714.50 471.48Z" fill="none" stroke="#e4ad6c" stroke-width="1.35"/>
<path d="M763.37 456.29L778.66 471.48L763.37 486.68L748.08 471.48Z" fill="none" stroke="#dcde62" stroke-width="1.5"/>
<path d="M795.95 455.29L812.24 471.48L795.95 487.68L779.66 471.48Z" fill="none" stroke="#e4ad6c" stroke-width="1.35"/>
<path d="M828.53 456.29L843.82 471.48L828.53 486.68L813.24 471.48Z" fill="none" stroke="#dcde62" stroke-width="1.5"/>
<path d="M861.11 455.29L877.40 471.48L861.11 487.68L844.82 471.48Z" fill="none" stroke="#e4ad6c" stroke-width="1.35"/>
<path d="M893.69 456.29L908.98 471.48L893.69 486.68L878.40 471.48Z" fill="none" stroke="#dcde62" stroke-width="1.5"/>
<path d="M926.27 455.29L942.56 471.48L926.27 487.68L909.98 471.48Z" fill="none" stroke="#e4ad6c" stroke-width="1.35"/>
<path d="M730.79 488.68L746.08 503.87L730.79 519.07L715.50 503.87Z" fill="none" stroke="#dcde62" stroke-width="1.5"/>
<path d="M763.37 487.68L779.66 503.87L763.37 520.07L747.08 503.87Z" fill="none" stroke="#e4ad6c" stroke-width="1.35"/>
<path d="M893.69 487.68L909.98 503.87L893.69 520.07L877.40 503.87Z" fill="none" stroke="#e4ad6c" stroke-width="1.35"/>
<path d="M926.27 488.68L941.56 503.87L926.27 519.07L910.98 503.87Z" fill="none" stroke="#dcde62" stroke-width="1.5"/>
<path d="M730.79 520.07L747.08 536.26L730.79 552.46L714.50 536.26Z" fill="none" stroke="#e4ad6c" stroke-width="1.35"/>
<path d="M763.37 521.07L778.66 536.26L763.37 551.46L748.08 536.26Z" fill="none" stroke="#dcde62" stroke-width="1.5"/>
<path d="M893.69 521.07L908.98 536.26L893.69 551.46L878.40 536.26Z" fill="none" stroke="#dcde62" stroke-width="1.5"/>
<path d="M926.27 520.07L942.56 536.26L926.27 552.46L909.98 536.26Z" fill="none" stroke="#e4ad6c" stroke-width="1.35"/>
<path d="M730.79 553.46L746.08 568.66L730.79 583.85L715.50 568.66Z" fill="none" stroke="#dcde62" stroke-width="1.5"/>
<path d="M763.37 552.46L779.66 568.66L763.37 584.85L747.08 568.66Z" fill="none" stroke="#e4ad6c" stroke-width="1.35"/>
<path d="M893.69 552.46L909.98 568.66L893.69 584.85L877.40 568.66Z" fill="none" stroke="#e4ad6c" stroke-width="1.35"/>
<path d="M926.27 553.46L941.56 568.66L926.27 583.85L910.98 568.66Z" fill="none" stroke="#dcde62" stroke-width="1.5"/>
<path d="M730.79 584.85L747.08 601.04L730.79 617.24L714.50 601.04Z" fill="none" stroke="#e4ad6c" stroke-width="1.35"/>
<path d="M763.37 585.85L778.66 601.04L763.37 616.24L748.08 601.04Z" fill="none" stroke="#dcde62" stroke-width="1.5"/>
<path d="M795.95 584.85L812.24 601.04L795.95 617.24L779.66 601.04Z" fill="none" stroke="#e4ad6c" stroke-width="1.35"/>
<path d="M828.53 585.85L843.82 601.04L828.53 616.24L813.24 601.04Z" fill="none" stroke="#dcde62" stroke-width="1.5"/>
<path d="M861.11 584.85L877.40 601.04L861.11 617.24L844.82 601.04Z" fill="none" stroke="#e4ad6c" stroke-width="1.35"/>
<path d="M893.69 585.85L908.98 601.04L893.69 616.24L878.40 601.04Z" fill="none" stroke="#dcde62" stroke-width="1.5"/>
<path d="M926.27 584.85L942.56 601.04L926.27 617.24L909.98 601.04Z" fill="none" stroke="#e4ad6c" stroke-width="1.35"/>
<path d="M730.79 618.24L746.08 633.44L730.79 648.63L715.50 633.44Z" fill="none" stroke="#dcde62" stroke-width="1.5"/>
<path d="M763.37 617.24L779.66 633.44L763.37 649.63L747.08 633.44Z" fill="none" stroke="#e4ad6c" stroke-width="1.35"/>
<path d="M795.95 618.24L811.24 633.44L795.95 648.63L780.66 633.44Z" fill="none" stroke="#dcde62" stroke-width="1.5"/>
<path d="M828.53 617.24L844.82 633.44L828.53 649.63L812.24 633.44Z" fill="none" stroke="#e4ad6c" stroke-width="1.35"/>
<path d="M861.11 618.24L876.40 633.44L861.11 648.63L845.82 633.44Z" fill="none" stroke="#dcde62" stroke-width="1.5"/>
<path d="M893.69 617.24L909.98 633.44L893.69 649.63L877.40 633.44Z" fill="none" stroke="#e4ad6c" stroke-width="1.35"/>
<path d="M926.27 618.24L941.56 633.44L926.27 648.63L910.98 633.44Z" fill="none" stroke="#dcde62" stroke-width="1.5"/>
<line x1="714.50" y1="422.90" x2="714.50" y2="455.29" stroke="#d6c96c" stroke-width="1.6"/>
<line x1="714.50" y1="422.90" x2="747.08" y2="422.90" stroke="#d6c96c" stroke-width="1.6"/>
<line x1="714.50" y1="455.29" x2="714.50" y2="487.68" stroke="#d6c96c" stroke-width="1.6"/>
<line x1="747.08" y1="422.90" x2="779.66" y2="422.90" stroke="#d6c96c" stroke-width="1.6"/>
<line x1="714.50" y1="487.68" x2="714.50" y2="520.07" stroke="#d6c96c" stroke-width="1.6"/>
<line x1="779.66" y1="422.90" x2="812.24" y2="422.90" stroke="#d6c96c" stroke-width="1.6"/>
<line x1="714.50" y1="520.07" x2="714.50" y2="552.46" stroke="#d6c96c" stroke-width="1.6"/>
<line x1="812.24" y1="422.90" x2="844.82" y2="422.90" stroke="#d6c96c" stroke-width="1.6"/>
<line x1="714.50" y1="552.46" x2="714.50" y2="584.85" stroke="#d6c96c" stroke-width="1.6"/>
<line x1="844.82" y1="422.90" x2="877.40" y2="422.90" stroke="#d6c96c" stroke-width="1.6"/>
<line x1="714.50" y1="584.85" x2="714.50" y2="617.24" stroke="#d6c96c" stroke-width="1.6"/>
<line x1="877.40" y1="422.90" x2="909.98" y2="422.90" stroke="#d6c96c" stroke-width="1.6"/>
<line x1="714.50" y1="617.24" x2="714.50" y2="649.63" stroke="#d6c96c" stroke-width="1.6"/>
<line x1="909.98" y1="422.90" x2="942.56" y2="422.90" stroke="#d6c96c" stroke-width="1.6"/>
<line x1="747.08" y1="422.90" x2="747.08" y2="455.29" stroke="#d6c96c" stroke-width="1.6"/>
<line x1="714.50" y1="455.29" x2="747.08" y2="455.29" stroke="#d6c96c" stroke-width="1.6"/>
<line x1="747.08" y1="455.29" x2="747.08" y2="487.68" stroke="#d6c96c" stroke-width="1.6"/>
<line x1="747.08" y1="455.29" x2="779.66" y2="455.29" stroke="#d6c96c" stroke-width="1.6"/>
<line x1="747.08" y1="487.68" x2="747.08" y2="520.07" stroke="#d6c96c" stroke-width="1.6"/>
<line x1="779.66" y1="455.29" x2="812.24" y2="455.29" stroke="#d6c96c" stroke-width="1.6"/>
<line x1="747.08" y1="520.07" x2="747.08" y2="552.46" stroke="#d6c96c" stroke-width="1.6"/>
<line x1="812.24" y1="455.29" x2="844.82" y2="455.29" stroke="#d6c96c" stroke-width="1.6"/>
<line x1="747.08" y1="552.46" x2="747.08" y2="584.85" stroke="#d6c96c" stroke-width="1.6"/>
<line x1="844.82" y1="455.29" x2="877.40" y2="455.29" stroke="#d6c96c" stroke-width="1.6"/>
<line x1="747.08" y1="584.85" x2="747.08" y2="617.24" stroke="#d6c96c" stroke-width="1.6"/>
<line x1="877.40" y1="455.29" x2="909.98" y2="455.29" stroke="#d6c96c" stroke-width="1.6"/>
<line x1="747.08" y1="617.24" x2="747.08" y2="649.63" stroke="#d6c96c" stroke-width="1.6"/>
<line x1="909.98" y1="455.29" x2="942.56" y2="455.29" stroke="#d6c96c" stroke-width="1.6"/>
<line x1="779.66" y1="422.90" x2="779.66" y2="455.29" stroke="#d6c96c" stroke-width="1.6"/>
<line x1="714.50" y1="487.68" x2="747.08" y2="487.68" stroke="#d6c96c" stroke-width="1.6"/>
<line x1="779.66" y1="455.29" x2="779.66" y2="487.68" stroke="#d6c96c" stroke-width="1.6"/>
<line x1="747.08" y1="487.68" x2="779.66" y2="487.68" stroke="#d6c96c" stroke-width="1.6"/>
<line x1="779.66" y1="487.68" x2="779.66" y2="520.07" stroke="#d6c96c" stroke-width="1.6"/>
<line x1="779.66" y1="487.68" x2="812.24" y2="487.68" stroke="#d6c96c" stroke-width="1.6"/>
<line x1="779.66" y1="520.07" x2="779.66" y2="552.46" stroke="#d6c96c" stroke-width="1.6"/>
<line x1="812.24" y1="487.68" x2="844.82" y2="487.68" stroke="#d6c96c" stroke-width="1.6"/>
<line x1="779.66" y1="552.46" x2="779.66" y2="584.85" stroke="#d6c96c" stroke-width="1.6"/>
<line x1="844.82" y1="487.68" x2="877.40" y2="487.68" stroke="#d6c96c" stroke-width="1.6"/>
<line x1="779.66" y1="584.85" x2="779.66" y2="617.24" stroke="#d6c96c" stroke-width="1.6"/>
<line x1="877.40" y1="487.68" x2="909.98" y2="487.68" stroke="#d6c96c" stroke-width="1.6"/>
<line x1="779.66" y1="617.24" x2="779.66" y2="649.63" stroke="#d6c96c" stroke-width="1.6"/>
<line x1="909.98" y1="487.68" x2="942.56" y2="487.68" stroke="#d6c96c" stroke-width="1.6"/>
<line x1="812.24" y1="422.90" x2="812.24" y2="455.29" stroke="#d6c96c" stroke-width="1.6"/>
<line x1="714.50" y1="520.07" x2="747.08" y2="520.07" stroke="#d6c96c" stroke-width="1.6"/>
<line x1="812.24" y1="455.29" x2="812.24" y2="487.68" stroke="#d6c96c" stroke-width="1.6"/>
<line x1="747.08" y1="520.07" x2="779.66" y2="520.07" stroke="#d6c96c" stroke-width="1.6"/>
<line x1="812.24" y1="584.85" x2="812.24" y2="617.24" stroke="#d6c96c" stroke-width="1.6"/>
<line x1="877.40" y1="520.07" x2="909.98" y2="520.07" stroke="#d6c96c" stroke-width="1.6"/>
<line x1="812.24" y1="617.24" x2="812.24" y2="649.63" stroke="#d6c96c" stroke-width="1.6"/>
<line x1="909.98" y1="520.07" x2="942.56" y2="520.07" stroke="#d6c96c" stroke-width="1.6"/>
<line x1="844.82" y1="422.90" x2="844.82" y2="455.29" stroke="#d6c96c" stroke-width="1.6"/>
<line x1="714.50" y1="552.46" x2="747.08" y2="552.46" stroke="#d6c96c" stroke-width="1.6"/>
<line x1="844.82" y1="455.29" x2="844.82" y2="487.68" stroke="#d6c96c" stroke-width="1.6"/>
<line x1="747.08" y1="552.46" x2="779.66" y2="552.46" stroke="#d6c96c" stroke-width="1.6"/>
<line x1="844.82" y1="584.85" x2="844.82" y2="617.24" stroke="#d6c96c" stroke-width="1.6"/>
<line x1="877.40" y1="552.46" x2="909.98" y2="552.46" stroke="#d6c96c" stroke-width="1.6"/>
<line x1="844.82" y1="617.24" x2="844.82" y2="649.63" stroke="#d6c96c" stroke-width="1.6"/>
<line x1="909.98" y1="552.46" x2="942.56" y2="552.46" stroke="#d6c96c" stroke-width="1.6"/>
<line x1="877.40" y1="422.90" x2="877.40" y2="455.29" stroke="#d6c96c" stroke-width="1.6"/>
<line x1="714.50" y1="584.85" x2="747.08" y2="584.85" stroke="#d6c96c" stroke-width="1.6"/>
<line x1="877.40" y1="455.29" x2="877.40" y2="487.68" stroke="#d6c96c" stroke-width="1.6"/>
<line x1="747.08" y1="584.85" x2="779.66" y2="584.85" stroke="#d6c96c" stroke-width="1.6"/>
<line x1="877.40" y1="487.68" x2="877.40" y2="520.07" stroke="#d6c96c" stroke-width="1.6"/>
<line x1="779.66" y1="584.85" x2="812.24" y2="584.85" stroke="#d6c96c" stroke-width="1.6"/>
<line x1="877.40" y1="520.07" x2="877.40" y2="552.46" stroke="#d6c96c" stroke-width="1.6"/>
<line x1="812.24" y1="584.85" x2="844.82" y2="584.85" stroke="#d6c96c" stroke-width="1.6"/>
<line x1="877.40" y1="552.46" x2="877.40" y2="584.85" stroke="#d6c96c" stroke-width="1.6"/>
<line x1="844.82" y1="584.85" x2="877.40" y2="584.85" stroke="#d6c96c" stroke-width="1.6"/>
<line x1="877.40" y1="584.85" x2="877.40" y2="617.24" stroke="#d6c96c" stroke-width="1.6"/>
<line x1="877.40" y1="584.85" x2="909.98" y2="584.85" stroke="#d6c96c" stroke-width="1.6"/>
<line x1="877.40" y1="617.24" x2="877.40" y2="649.63" stroke="#d6c96c" stroke-width="1.6"/>
<line x1="909.98" y1="584.85" x2="942.56" y2="584.85" stroke="#d6c96c" stroke-width="1.6"/>
<line x1="909.98" y1="422.90" x2="909.98" y2="455.29" stroke="#d6c96c" stroke-width="1.6"/>
<line x1="714.50" y1="617.24" x2="747.08" y2="617.24" stroke="#d6c96c" stroke-width="1.6"/>
<line x1="909.98" y1="455.29" x2="909.98" y2="487.68" stroke="#d6c96c" stroke-width="1.6"/>
<line x1="747.08" y1="617.24" x2="779.66" y2="617.24" stroke="#d6c96c" stroke-width="1.6"/>
<line x1="909.98" y1="487.68" x2="909.98" y2="520.07" stroke="#d6c96c" stroke-width="1.6"/>
<line x1="779.66" y1="617.24" x2="812.24" y2="617.24" stroke="#d6c96c" stroke-width="1.6"/>
<line x1="909.98" y1="520.07" x2="909.98" y2="552.46" stroke="#d6c96c" stroke-width="1.6"/>
<line x1="812.24" y1="617.24" x2="844.82" y2="617.24" stroke="#d6c96c" stroke-width="1.6"/>
<line x1="909.98" y1="552.46" x2="909.98" y2="584.85" stroke="#d6c96c" stroke-width="1.6"/>
<line x1="844.82" y1="617.24" x2="877.40" y2="617.24" stroke="#d6c96c" stroke-width="1.6"/>
<line x1="909.98" y1="584.85" x2="909.98" y2="617.24" stroke="#d6c96c" stroke-width="1.6"/>
<line x1="877.40" y1="617.24" x2="909.98" y2="617.24" stroke="#d6c96c" stroke-width="1.6"/>
<line x1="909.98" y1="617.24" x2="909.98" y2="649.63" stroke="#d6c96c" stroke-width="1.6"/>
<line x1="909.98" y1="617.24" x2="942.56" y2="617.24" stroke="#d6c96c" stroke-width="1.6"/>
<line x1="942.56" y1="422.90" x2="942.56" y2="455.29" stroke="#d6c96c" stroke-width="1.6"/>
<line x1="714.50" y1="649.63" x2="747.08" y2="649.63" stroke="#d6c96c" stroke-width="1.6"/>
<line x1="942.56" y1="455.29" x2="942.56" y2="487.68" stroke="#d6c96c" stroke-width="1.6"/>
<line x1="747.08" y1="649.63" x2="779.66" y2="649.63" stroke="#d6c96c" stroke-width="1.6"/>
<line x1="942.56" y1="487.68" x2="942.56" y2="520.07" stroke="#d6c96c" stroke-width="1.6"/>
<line x1="779.66" y1="649.63" x2="812.24" y2="649.63" stroke="#d6c96c" stroke-width="1.6"/>
<line x1="942.56" y1="520.07" x2="942.56" y2="552.46" stroke="#d6c96c" stroke-width="1.6"/>
<line x1="812.24" y1="649.63" x2="844.82" y2="649.63" stroke="#d6c96c" stroke-width="1.6"/>
<line x1="942.56" y1="552.46" x2="942.56" y2="584.85" stroke="#d6c96c" stroke-width="1.6"/>
<line x1="844.82" y1="649.63" x2="877.40" y2="649.63" stroke="#d6c96c" stroke-width="1.6"/>
<line x1="942.56" y1="584.85" x2="942.56" y2="617.24" stroke="#d6c96c" stroke-width="1.6"/>
<line x1="877.40" y1="649.63" x2="909.98" y2="649.63" stroke="#d6c96c" stroke-width="1.6"/>
<line x1="942.56" y1="617.24" x2="942.56" y2="649.63" stroke="#d6c96c" stroke-width="1.6"/>
<line x1="909.98" y1="649.63" x2="942.56" y2="649.63" stroke="#d6c96c" stroke-width="1.6"/>
<circle cx="714.50" cy="422.90" r="1.6" fill="#3fb597"/>
<circle cx="730.79" cy="422.90" r="1.6" fill="#3fb597"/>
<circle cx="747.08" cy="422.90" r="1.6" fill="#3fb597"/>
<circle cx="763.37" cy="422.90" r="1.6" fill="#3fb597"/>
<circle cx="779.66" cy="422.90" r="1.6" fill="#3fb597"/>
<circle cx="795.95" cy="422.90" r="1.6" fill="#3fb597"/>
<circle cx="812.24" cy="422.90" r="1.6" fill="#3fb597"/>
<circle cx="828.53" cy="422.90" r="1.6" fill="#3fb597"/>
<circle cx="844.82" cy="422.90" r="1.6" fill="#3fb597"/>
<circle cx="861.11" cy="422.90" r="1.6" fill="#3fb597"/>
<circle cx="877.40" cy="422.90" r="1.6" fill="#3fb597"/>
<circle cx="893.69" cy="422.90" r="1.6" fill="#3fb597"/>
<circle cx="909.98" cy="422.90" r="1.6" fill="#3fb597"/>
<circle cx="926.27" cy="422.90" r="1.6" fill="#3fb597"/>
<circle cx="942.56" cy="422.90" r="1.6" fill="#3fb597"/>
<circle cx="714.50" cy="439.09" r="1.6" fill="#3fb597"/>
<circle cx="747.08" cy="439.09" r="1.6" fill="#3fb597"/>
<circle cx="779.66" cy="439.09" r="1.6" fill="#3fb597"/>
<circle cx="812.24" cy="439.09" r="1.6" fill="#3fb597"/>
<circle cx="844.82" cy="439.09" r="1.6" fill="#3fb597"/>
<circle cx="877.40" cy="439.09" r="1.6" fill="#3fb597"/>
<circle cx="909.98" cy="439.09" r="1.6" fill="#3fb597"/>
<circle cx="942.56" cy="439.09" r="1.6" fill="#3fb597"/>
<circle cx="714.50" cy="455.29" r="1.6" fill="#3fb597"/>
<circle cx="730.79" cy="455.29" r="1.6" fill="#3fb597"/>
<circle cx="747.08" cy="455.29" r="1.6" fill="#3fb597"/>
<circle cx="763.37" cy="455.29" r="1.6" fill="#3fb597"/>
<circle cx="779.66" cy="455.29" r="1.6" fill="#3fb597"/>
<circle cx="795.95" cy="455.29" r="1.6" fill="#3fb597"/>
<circle cx="812.24" cy="455.29" r="1.6" fill="#3fb597"/>
<circle cx="828.53" cy="455.29" r="1.6" fill="#3fb597"/>
<circle cx="844.82" cy="455.29" r="1.6" fill="#3fb597"/>
<circle cx="861.11" cy="455.29" r="1.6" fill="#3fb597"/>
<circle cx="877.40" cy="455.29" r="1.6" fill="#3fb597"/>
<circle cx="893.69" cy="455.29" r="1.6" fill="#3fb597"/>
<circle cx="909.98" cy="455.29" r="1.6" fill="#3fb597"/>
<circle cx="926.27" cy="455.29" r="1.6" fill="#3fb597"/>
<circle cx="942.56" cy="455.29" r="1.6" fill="#3fb597"/>
<circle cx="714.50" cy="471.48" r="1.6" fill="#3fb597"/>
<circle cx="747.08" cy="471.48" r="1.6" fill="#3fb597"/>
<circle cx="779.66" cy="471.48" r="1.6" fill="#3fb597"/>
<circle cx="812.24" cy="471.48" r="1.6" fill="#3fb597"/>
<circle cx="844.82" cy="471.48" r="1.6" fill="#3fb597"/>
<circle cx="877.40" cy="471.48" r="1.6" fill="#3fb597"/>
<circle cx="909.98" cy="471.48" r="1.6" fill="#3fb597"/>
<circle cx="942.56" cy="471.48" r="1.6" fill="#3fb597"/>
<circle cx="714.50" cy="487.68" r="1.6" fill="#3fb597"/>
<circle cx="730.79" cy="487.68" r="1.6" fill="#3fb597"/>
<circle cx="747.08" cy="487.68" r="1.6" fill="#3fb597"/>
<circle cx="763.37" cy="487.68" r="1.6" fill="#3fb597"/>
<circle cx="779.66" cy="487.68" r="1.6" fill="#3fb597"/>
<circle cx="795.95" cy="487.68" r="1.6" fill="#3fb597"/>
<circle cx="812.24" cy="487.68" r="1.6" fill="#3fb597"/>
<circle cx="828.53" cy="487.68" r="1.6" fill="#3fb597"/>
<circle cx="844.82" cy="487.68" r="1.6" fill="#3fb597"/>
<circle cx="861.11" cy="487.68" r="1.6" fill="#3fb597"/>
<circle cx="877.40" cy="487.68" r="1.6" fill="#3fb597"/>
<circle cx="893.69" cy="487.68" r="1.6" fill="#3fb597"/>
<circle cx="909.98" cy="487.68" r="1.6" fill="#3fb597"/>
<circle cx="926.27" cy="487.68" r="1.6" fill="#3fb597"/>
<circle cx="942.56" cy="487.68" r="1.6" fill="#3fb597"/>
<circle cx="714.50" cy="503.88" r="1.6" fill="#3fb597"/>
<circle cx="747.08" cy="503.88" r="1.6" fill="#3fb597"/>
<circle cx="779.66" cy="503.88" r="1.6" fill="#3fb597"/>
<circle cx="877.40" cy="503.88" r="1.6" fill="#3fb597"/>
<circle cx="909.98" cy="503.88" r="1.6" fill="#3fb597"/>
<circle cx="942.56" cy="503.88" r="1.6" fill="#3fb597"/>
<circle cx="714.50" cy="520.07" r="1.6" fill="#3fb597"/>
<circle cx="730.79" cy="520.07" r="1.6" fill="#3fb597"/>
<circle cx="747.08" cy="520.07" r="1.6" fill="#3fb597"/>
<circle cx="763.37" cy="520.07" r="1.6" fill="#3fb597"/>
<circle cx="779.66" cy="520.07" r="1.6" fill="#3fb597"/>
<circle cx="877.40" cy="520.07" r="1.6" fill="#3fb597"/>
<circle cx="893.69" cy="520.07" r="1.6" fill="#3fb597"/>
<circle cx="909.98" cy="520.07" r="1.6" fill="#3fb597"/>
<circle cx="926.27" cy="520.07" r="1.6" fill="#3fb597"/>
<circle cx="942.56" cy="520.07" r="1.6" fill="#3fb597"/>
<circle cx="714.50" cy="536.26" r="1.6" fill="#3fb597"/>
<circle cx="747.08" cy="536.26" r="1.6" fill="#3fb597"/>
<circle cx="779.66" cy="536.26" r="1.6" fill="#3fb597"/>
<circle cx="877.40" cy="536.26" r="1.6" fill="#3fb597"/>
<circle cx="909.98" cy="536.26" r="1.6" fill="#3fb597"/>
<circle cx="942.56" cy="536.26" r="1.6" fill="#3fb597"/>
<circle cx="714.50" cy="552.46" r="1.6" fill="#3fb597"/>
<circle cx="730.79" cy="552.46" r="1.6" fill="#3fb597"/>
<circle cx="747.08" cy="552.46" r="1.6" fill="#3fb597"/>
<circle cx="763.37" cy="552.46" r="1.6" fill="#3fb597"/>
<circle cx="779.66" cy="552.46" r="1.6" fill="#3fb597"/>
<circle cx="877.40" cy="552.46" r="1.6" fill="#3fb597"/>
<circle cx="893.69" cy="552.46" r="1.6" fill="#3fb597"/>
<circle cx="909.98" cy="552.46" r="1.6" fill="#3fb597"/>
<circle cx="926.27" cy="552.46" r="1.6" fill="#3fb597"/>
<circle cx="942.56" cy="552.46" r="1.6" fill="#3fb597"/>
<circle cx="714.50" cy="568.65" r="1.6" fill="#3fb597"/>
<circle cx="747.08" cy="568.65" r="1.6" fill="#3fb597"/>
<circle cx="779.66" cy="568.65" r="1.6" fill="#3fb597"/>
<circle cx="877.40" cy="568.65" r="1.6" fill="#3fb597"/>
<circle cx="909.98" cy="568.65" r="1.6" fill="#3fb597"/>
<circle cx="942.56" cy="568.65" r="1.6" fill="#3fb597"/>
<circle cx="714.50" cy="584.85" r="1.6" fill="#3fb597"/>
<circle cx="730.79" cy="584.85" r="1.6" fill="#3fb597"/>
<circle cx="747.08" cy="584.85" r="1.6" fill="#3fb597"/>
<circle cx="763.37" cy="584.85" r="1.6" fill="#3fb597"/>
<circle cx="779.66" cy="584.85" r="1.6" fill="#3fb597"/>
<circle cx="795.95" cy="584.85" r="1.6" fill="#3fb597"/>
<circle cx="812.24" cy="584.85" r="1.6" fill="#3fb597"/>
<circle cx="828.53" cy="584.85" r="1.6" fill="#3fb597"/>
<circle cx="844.82" cy="584.85" r="1.6" fill="#3fb597"/>
<circle cx="861.11" cy="584.85" r="1.6" fill="#3fb597"/>
<circle cx="877.40" cy="584.85" r="1.6" fill="#3fb597"/>
<circle cx="893.69" cy="584.85" r="1.6" fill="#3fb597"/>
<circle cx="909.98" cy="584.85" r="1.6" fill="#3fb597"/>
<circle cx="926.27" cy="584.85" r="1.6" fill="#3fb597"/>
<circle cx="942.56" cy="584.85" r="1.6" fill="#3fb597"/>
<circle cx="714.50" cy="601.04" r="1.6" fill="#3fb597"/>
<circle cx="747.08" cy="601.04" r="1.6" fill="#3fb597"/>
<circle cx="779.66" cy="601.04" r="1.6" fill="#3fb597"/>
<circle cx="812.24" cy="601.04" r="1.6" fill="#3fb597"/>
<circle cx="844.82" cy="601.04" r="1.6" fill="#3fb597"/>
<circle cx="877.40" cy="601.04" r="1.6" fill="#3fb597"/>
<circle cx="909.98" cy="601.04" r="1.6" fill="#3fb597"/>
<circle cx="942.56" cy="601.04" r="1.6" fill="#3fb597"/>
<circle cx="714.50" cy="617.24" r="1.6" fill="#3fb597"/>
<circle cx="730.79" cy="617.24" r="1.6" fill="#3fb597"/>
<circle cx="747.08" cy="617.24" r="1.6" fill="#3fb597"/>
<circle cx="763.37" cy="617.24" r="1.6" fill="#3fb597"/>
<circle cx="779.66" cy="617.24" r="1.6" fill="#3fb597"/>
<circle cx="795.95" cy="617.24" r="1.6" fill="#3fb597"/>
<circle cx="812.24" cy="617.24" r="1.6" fill="#3fb597"/>
<circle cx="828.53" cy="617.24" r="1.6" fill="#3fb597"/>
<circle cx="844.82" cy="617.24" r="1.6" fill="#3fb597"/>
<circle cx="861.11" cy="617.24" r="1.6" fill="#3fb597"/>
<circle cx="877.40" cy="617.24" r="1.6" fill="#3fb597"/>
<circle cx="893.69" cy="617.24" r="1.6" fill="#3fb597"/>
<circle cx="909.98" cy="617.24" r="1.6" fill="#3fb597"/>
<circle cx="926.27" cy="617.24" r="1.6" fill="#3fb597"/>
<circle cx="942.56" cy="617.24" r="1.6" fill="#3fb597"/>
<circle cx="714.50" cy="633.43" r="1.6" fill="#3fb597"/>
<circle cx="747.08" cy="633.43" r="1.6" fill="#3fb597"/>
<circle cx="779.66" cy="633.43" r="1.6" fill="#3fb597"/>
<circle cx="812.24" cy="633.43" r="1.6" fill="#3fb597"/>
<circle cx="844.82" cy="633.43" r="1.6" fill="#3fb597"/>
<circle cx="877.40" cy="633.43" r="1.6" fill="#3fb597"/>
<circle cx="909.98" cy="633.43" r="1.6" fill="#3fb597"/>
<circle cx="942.56" cy="633.43" r="1.6" fill="#3fb597"/>
<circle cx="714.50" cy="649.63" r="1.6" fill="#3fb597"/>
<circle cx="730.79" cy="649.63" r="1.6" fill="#3fb597"/>
<circle cx="747.08" cy="649.63" r="1.6" fill="#3fb597"/>
<circle cx="763.37" cy="649.63" r="1.6" fill="#3fb597"/>
<circle cx="779.66" cy="649.63" r="1.6" fill="#3fb597"/>
<circle cx="795.95" cy="649.63" r="1.6" fill="#3fb597"/>
<circle cx="812.24" cy="649.63" r="1.6" fill="#3fb597"/>
<circle cx="828.53" cy="649.63" r="1.6" fill="#3fb597"/>
<circle cx="844.82" cy="649.63" r="1.6" fill="#3fb597"/>
<circle cx="861.11" cy="649.63" r="1.6" fill="#3fb597"/>
<circle cx="877.40" cy="649.63" r="1.6" fill="#3fb597"/>
<circle cx="893.69" cy="649.63" r="1.6" fill="#3fb597"/>
<circle cx="909.98" cy="649.63" r="1.6" fill="#3fb597"/>
<circle cx="926.27" cy="649.63" r="1.6" fill="#3fb597"/>
<circle cx="942.56" cy="649.63" r="1.6" fill="#3fb597"/>
</g>
<g filter="url(#b5)">
<circle cx="730.5" cy="439.5" r="8.0" fill="#b00000"/>
<circle cx="731.4" cy="435.2" r="5.0" fill="url(#redflower)"/>
<circle cx="734.9" cy="439.0" r="5.0" fill="url(#redflower)"/>
<circle cx="732.3" cy="443.5" r="5.0" fill="url(#redflower)"/>
<circle cx="727.2" cy="442.4" r="5.0" fill="url(#redflower)"/>
<circle cx="726.7" cy="437.3" r="5.0" fill="url(#redflower)"/>
<circle cx="730.5" cy="439.5" r="4.4" fill="#e00000"/>
<circle cx="730.5" cy="439.5" r="2.2" fill="#b79a9e"/>
<circle cx="730.5" cy="504.3" r="8.0" fill="#b00000"/>
<circle cx="731.4" cy="500.0" r="5.0" fill="url(#redflower)"/>
<circle cx="734.9" cy="503.8" r="5.0" fill="url(#redflower)"/>
<circle cx="732.3" cy="508.3" r="5.0" fill="url(#redflower)"/>
<circle cx="727.2" cy="507.2" r="5.0" fill="url(#redflower)"/>
<circle cx="726.7" cy="502.1" r="5.0" fill="url(#redflower)"/>
<circle cx="730.5" cy="504.3" r="4.4" fill="#e00000"/>
<circle cx="730.5" cy="504.3" r="2.2" fill="#b79a9e"/>
<circle cx="730.5" cy="569.1" r="8.0" fill="#b00000"/>
<circle cx="731.4" cy="564.8" r="5.0" fill="url(#redflower)"/>
<circle cx="734.9" cy="568.6" r="5.0" fill="url(#redflower)"/>
<circle cx="732.3" cy="573.1" r="5.0" fill="url(#redflower)"/>
<circle cx="727.2" cy="572.0" r="5.0" fill="url(#redflower)"/>
<circle cx="726.7" cy="566.9" r="5.0" fill="url(#redflower)"/>
<circle cx="730.5" cy="569.1" r="4.4" fill="#e00000"/>
<circle cx="730.5" cy="569.1" r="2.2" fill="#b79a9e"/>
<circle cx="730.5" cy="633.8" r="8.0" fill="#b00000"/>
<circle cx="731.4" cy="629.5" r="5.0" fill="url(#redflower)"/>
<circle cx="734.9" cy="633.4" r="5.0" fill="url(#redflower)"/>
<circle cx="732.3" cy="637.9" r="5.0" fill="url(#redflower)"/>
<circle cx="727.2" cy="636.8" r="5.0" fill="url(#redflower)"/>
<circle cx="726.7" cy="631.6" r="5.0" fill="url(#redflower)"/>
<circle cx="730.5" cy="633.8" r="4.4" fill="#e00000"/>
<circle cx="730.5" cy="633.8" r="2.2" fill="#b79a9e"/>
<circle cx="795.7" cy="439.5" r="8.0" fill="#b00000"/>
<circle cx="796.6" cy="435.2" r="5.0" fill="url(#redflower)"/>
<circle cx="800.0" cy="439.0" r="5.0" fill="url(#redflower)"/>
<circle cx="797.4" cy="443.5" r="5.0" fill="url(#redflower)"/>
<circle cx="792.4" cy="442.4" r="5.0" fill="url(#redflower)"/>
<circle cx="791.8" cy="437.3" r="5.0" fill="url(#redflower)"/>
<circle cx="795.7" cy="439.5" r="4.4" fill="#e00000"/>
<circle cx="795.7" cy="439.5" r="2.2" fill="#b79a9e"/>
<circle cx="795.7" cy="633.8" r="8.0" fill="#b00000"/>
<circle cx="796.6" cy="629.5" r="5.0" fill="url(#redflower)"/>
<circle cx="800.0" cy="633.4" r="5.0" fill="url(#redflower)"/>
<circle cx="797.4" cy="637.9" r="5.0" fill="url(#redflower)"/>
<circle cx="792.4" cy="636.8" r="5.0" fill="url(#redflower)"/>
<circle cx="791.8" cy="631.6" r="5.0" fill="url(#redflower)"/>
<circle cx="795.7" cy="633.8" r="4.4" fill="#e00000"/>
<circle cx="795.7" cy="633.8" r="2.2" fill="#b79a9e"/>
<circle cx="860.8" cy="439.5" r="8.0" fill="#b00000"/>
<circle cx="861.7" cy="435.2" r="5.0" fill="url(#redflower)"/>
<circle cx="865.2" cy="439.0" r="5.0" fill="url(#redflower)"/>
<circle cx="862.6" cy="443.5" r="5.0" fill="url(#redflower)"/>
<circle cx="857.5" cy="442.4" r="5.0" fill="url(#redflower)"/>
<circle cx="857.0" cy="437.3" r="5.0" fill="url(#redflower)"/>
<circle cx="860.8" cy="439.5" r="4.4" fill="#e00000"/>
<circle cx="860.8" cy="439.5" r="2.2" fill="#b79a9e"/>
<circle cx="860.8" cy="633.8" r="8.0" fill="#b00000"/>
<circle cx="861.7" cy="629.5" r="5.0" fill="url(#redflower)"/>
<circle cx="865.2" cy="633.4" r="5.0" fill="url(#redflower)"/>
<circle cx="862.6" cy="637.9" r="5.0" fill="url(#redflower)"/>
<circle cx="857.5" cy="636.8" r="5.0" fill="url(#redflower)"/>
<circle cx="857.0" cy="631.6" r="5.0" fill="url(#redflower)"/>
<circle cx="860.8" cy="633.8" r="4.4" fill="#e00000"/>
<circle cx="860.8" cy="633.8" r="2.2" fill="#b79a9e"/>
<circle cx="926.0" cy="439.5" r="8.0" fill="#b00000"/>
<circle cx="926.9" cy="435.2" r="5.0" fill="url(#redflower)"/>
<circle cx="930.3" cy="439.0" r="5.0" fill="url(#redflower)"/>
<circle cx="927.8" cy="443.5" r="5.0" fill="url(#redflower)"/>
<circle cx="922.7" cy="442.4" r="5.0" fill="url(#redflower)"/>
<circle cx="922.2" cy="437.3" r="5.0" fill="url(#redflower)"/>
<circle cx="926.0" cy="439.5" r="4.4" fill="#e00000"/>
<circle cx="926.0" cy="439.5" r="2.2" fill="#b79a9e"/>
<circle cx="926.0" cy="504.3" r="8.0" fill="#b00000"/>
<circle cx="926.9" cy="500.0" r="5.0" fill="url(#redflower)"/>
<circle cx="930.3" cy="503.8" r="5.0" fill="url(#redflower)"/>
<circle cx="927.8" cy="508.3" r="5.0" fill="url(#redflower)"/>
<circle cx="922.7" cy="507.2" r="5.0" fill="url(#redflower)"/>
<circle cx="922.2" cy="502.1" r="5.0" fill="url(#redflower)"/>
<circle cx="926.0" cy="504.3" r="4.4" fill="#e00000"/>
<circle cx="926.0" cy="504.3" r="2.2" fill="#b79a9e"/>
<circle cx="926.0" cy="569.1" r="8.0" fill="#b00000"/>
<circle cx="926.9" cy="564.8" r="5.0" fill="url(#redflower)"/>
<circle cx="930.3" cy="568.6" r="5.0" fill="url(#redflower)"/>
<circle cx="927.8" cy="573.1" r="5.0" fill="url(#redflower)"/>
<circle cx="922.7" cy="572.0" r="5.0" fill="url(#redflower)"/>
<circle cx="922.2" cy="566.9" r="5.0" fill="url(#redflower)"/>
<circle cx="926.0" cy="569.1" r="4.4" fill="#e00000"/>
<circle cx="926.0" cy="569.1" r="2.2" fill="#b79a9e"/>
<circle cx="926.0" cy="633.8" r="8.0" fill="#b00000"/>
<circle cx="926.9" cy="629.5" r="5.0" fill="url(#redflower)"/>
<circle cx="930.3" cy="633.4" r="5.0" fill="url(#redflower)"/>
<circle cx="927.8" cy="637.9" r="5.0" fill="url(#redflower)"/>
<circle cx="922.7" cy="636.8" r="5.0" fill="url(#redflower)"/>
<circle cx="922.2" cy="631.6" r="5.0" fill="url(#redflower)"/>
<circle cx="926.0" cy="633.8" r="4.4" fill="#e00000"/>
<circle cx="926.0" cy="633.8" r="2.2" fill="#b79a9e"/>
</g>
<g filter="url(#bg)">
<rect x="363.70" y="936.25" width="30.92" height="3.2" fill="#e4e4e8"/>
<rect x="428.54" y="936.25" width="30.92" height="3.2" fill="#e4e4e8"/>
<rect x="493.38" y="936.25" width="30.92" height="3.2" fill="#e4e4e8"/>
<rect x="558.22" y="936.25" width="30.92" height="3.2" fill="#e4e4e8"/>
<rect x="362.70" y="708.60" width="32.42" height="32.35" fill="#88878f"/>
<polygon points="378.9,710.2 393.5,724.8 378.9,739.4 364.3,724.8" fill="#ffffff" />
<polygon points="378.9,710.2 393.5,724.8 378.9,739.4 364.3,724.8" fill="url(#dsh)" />
<path d="M366.30 722.77L378.91 710.20L391.52 722.77" fill="none" stroke="#8c8b94" stroke-opacity="0.5" stroke-width="4.6" stroke-linejoin="miter"/>
<rect x="427.54" y="708.60" width="32.42" height="32.35" fill="#88878f"/>
<polygon points="443.7,710.2 458.4,724.8 443.7,739.4 429.1,724.8" fill="#ffffff" />
<polygon points="443.7,710.2 458.4,724.8 443.7,739.4 429.1,724.8" fill="url(#dsh)" />
<path d="M431.14 722.77L443.75 710.20L456.36 722.77" fill="none" stroke="#8c8b94" stroke-opacity="0.5" stroke-width="4.6" stroke-linejoin="miter"/>
<rect x="492.38" y="708.60" width="32.42" height="32.35" fill="#88878f"/>
<polygon points="508.6,710.2 523.2,724.8 508.6,739.4 494.0,724.8" fill="#ffffff" />
<polygon points="508.6,710.2 523.2,724.8 508.6,739.4 494.0,724.8" fill="url(#dsh)" />
<path d="M495.98 722.77L508.59 710.20L521.20 722.77" fill="none" stroke="#8c8b94" stroke-opacity="0.5" stroke-width="4.6" stroke-linejoin="miter"/>
<rect x="557.22" y="708.60" width="32.42" height="32.35" fill="#88878f"/>
<polygon points="573.4,710.2 588.0,724.8 573.4,739.4 558.8,724.8" fill="#ffffff" />
<polygon points="573.4,710.2 588.0,724.8 573.4,739.4 558.8,724.8" fill="url(#dsh)" />
<path d="M560.82 722.77L573.43 710.20L586.04 722.77" fill="none" stroke="#8c8b94" stroke-opacity="0.5" stroke-width="4.6" stroke-linejoin="miter"/>
<rect x="395.12" y="740.95" width="32.42" height="32.35" fill="#88878f"/>
<polygon points="411.3,742.6 425.9,757.1 411.3,771.7 396.7,757.1" fill="#ffffff" />
<polygon points="411.3,742.6 425.9,757.1 411.3,771.7 396.7,757.1" fill="url(#dsh)" />
<path d="M398.72 755.12L411.33 742.55L423.94 755.12" fill="none" stroke="#8c8b94" stroke-opacity="0.5" stroke-width="4.6" stroke-linejoin="miter"/>
<rect x="459.96" y="740.95" width="32.42" height="32.35" fill="#88878f"/>
<polygon points="476.2,742.6 490.8,757.1 476.2,771.7 461.6,757.1" fill="#ffffff" />
<polygon points="476.2,742.6 490.8,757.1 476.2,771.7 461.6,757.1" fill="url(#dsh)" />
<path d="M463.56 755.12L476.17 742.55L488.78 755.12" fill="none" stroke="#8c8b94" stroke-opacity="0.5" stroke-width="4.6" stroke-linejoin="miter"/>
<rect x="524.80" y="740.95" width="32.42" height="32.35" fill="#88878f"/>
<polygon points="541.0,742.6 555.6,757.1 541.0,771.7 526.4,757.1" fill="#ffffff" />
<polygon points="541.0,742.6 555.6,757.1 541.0,771.7 526.4,757.1" fill="url(#dsh)" />
<path d="M528.40 755.12L541.01 742.55L553.62 755.12" fill="none" stroke="#8c8b94" stroke-opacity="0.5" stroke-width="4.6" stroke-linejoin="miter"/>
<rect x="362.70" y="773.30" width="32.42" height="32.35" fill="#88878f"/>
<polygon points="378.9,774.9 393.5,789.5 378.9,804.1 364.3,789.5" fill="#ffffff" />
<polygon points="378.9,774.9 393.5,789.5 378.9,804.1 364.3,789.5" fill="url(#dsh)" />
<path d="M366.30 787.48L378.91 774.90L391.52 787.48" fill="none" stroke="#8c8b94" stroke-opacity="0.5" stroke-width="4.6" stroke-linejoin="miter"/>
<rect x="427.54" y="773.30" width="32.42" height="32.35" fill="#88878f"/>
<polygon points="443.7,774.9 458.4,789.5 443.7,804.1 429.1,789.5" fill="#ffffff" />
<polygon points="443.7,774.9 458.4,789.5 443.7,804.1 429.1,789.5" fill="url(#dsh)" />
<path d="M431.14 787.48L443.75 774.90L456.36 787.48" fill="none" stroke="#8c8b94" stroke-opacity="0.5" stroke-width="4.6" stroke-linejoin="miter"/>
<rect x="492.38" y="773.30" width="32.42" height="32.35" fill="#88878f"/>
<polygon points="508.6,774.9 523.2,789.5 508.6,804.1 494.0,789.5" fill="#ffffff" />
<polygon points="508.6,774.9 523.2,789.5 508.6,804.1 494.0,789.5" fill="url(#dsh)" />
<path d="M495.98 787.48L508.59 774.90L521.20 787.48" fill="none" stroke="#8c8b94" stroke-opacity="0.5" stroke-width="4.6" stroke-linejoin="miter"/>
<rect x="557.22" y="773.30" width="32.42" height="32.35" fill="#88878f"/>
<polygon points="573.4,774.9 588.0,789.5 573.4,804.1 558.8,789.5" fill="#ffffff" />
<polygon points="573.4,774.9 588.0,789.5 573.4,804.1 558.8,789.5" fill="url(#dsh)" />
<path d="M560.82 787.48L573.43 774.90L586.04 787.48" fill="none" stroke="#8c8b94" stroke-opacity="0.5" stroke-width="4.6" stroke-linejoin="miter"/>
<rect x="395.12" y="805.65" width="32.42" height="32.35" fill="#88878f"/>
<polygon points="411.3,807.3 425.9,821.8 411.3,836.4 396.7,821.8" fill="#ffffff" />
<polygon points="411.3,807.3 425.9,821.8 411.3,836.4 396.7,821.8" fill="url(#dsh)" />
<path d="M398.72 819.83L411.33 807.25L423.94 819.83" fill="none" stroke="#8c8b94" stroke-opacity="0.5" stroke-width="4.6" stroke-linejoin="miter"/>
<rect x="459.96" y="805.65" width="32.42" height="32.35" fill="#88878f"/>
<polygon points="476.2,807.3 490.8,821.8 476.2,836.4 461.6,821.8" fill="#ffffff" />
<polygon points="476.2,807.3 490.8,821.8 476.2,836.4 461.6,821.8" fill="url(#dsh)" />
<path d="M463.56 819.83L476.17 807.25L488.78 819.83" fill="none" stroke="#8c8b94" stroke-opacity="0.5" stroke-width="4.6" stroke-linejoin="miter"/>
<rect x="524.80" y="805.65" width="32.42" height="32.35" fill="#88878f"/>
<polygon points="541.0,807.3 555.6,821.8 541.0,836.4 526.4,821.8" fill="#ffffff" />
<polygon points="541.0,807.3 555.6,821.8 541.0,836.4 526.4,821.8" fill="url(#dsh)" />
<path d="M528.40 819.83L541.01 807.25L553.62 819.83" fill="none" stroke="#8c8b94" stroke-opacity="0.5" stroke-width="4.6" stroke-linejoin="miter"/>
<rect x="362.70" y="838.00" width="32.42" height="32.35" fill="#88878f"/>
<polygon points="378.9,839.6 393.5,854.2 378.9,868.8 364.3,854.2" fill="#ffffff" />
<polygon points="378.9,839.6 393.5,854.2 378.9,868.8 364.3,854.2" fill="url(#dsh)" />
<path d="M366.30 852.17L378.91 839.60L391.52 852.17" fill="none" stroke="#8c8b94" stroke-opacity="0.5" stroke-width="4.6" stroke-linejoin="miter"/>
<rect x="427.54" y="838.00" width="32.42" height="32.35" fill="#88878f"/>
<polygon points="443.7,839.6 458.4,854.2 443.7,868.8 429.1,854.2" fill="#ffffff" />
<polygon points="443.7,839.6 458.4,854.2 443.7,868.8 429.1,854.2" fill="url(#dsh)" />
<path d="M431.14 852.17L443.75 839.60L456.36 852.17" fill="none" stroke="#8c8b94" stroke-opacity="0.5" stroke-width="4.6" stroke-linejoin="miter"/>
<rect x="492.38" y="838.00" width="32.42" height="32.35" fill="#88878f"/>
<polygon points="508.6,839.6 523.2,854.2 508.6,868.8 494.0,854.2" fill="#ffffff" />
<polygon points="508.6,839.6 523.2,854.2 508.6,868.8 494.0,854.2" fill="url(#dsh)" />
<path d="M495.98 852.17L508.59 839.60L521.20 852.17" fill="none" stroke="#8c8b94" stroke-opacity="0.5" stroke-width="4.6" stroke-linejoin="miter"/>
<rect x="557.22" y="838.00" width="32.42" height="32.35" fill="#88878f"/>
<polygon points="573.4,839.6 588.0,854.2 573.4,868.8 558.8,854.2" fill="#ffffff" />
<polygon points="573.4,839.6 588.0,854.2 573.4,868.8 558.8,854.2" fill="url(#dsh)" />
<path d="M560.82 852.17L573.43 839.60L586.04 852.17" fill="none" stroke="#8c8b94" stroke-opacity="0.5" stroke-width="4.6" stroke-linejoin="miter"/>
<rect x="395.12" y="870.35" width="32.42" height="32.35" fill="#88878f"/>
<polygon points="411.3,872.0 425.9,886.5 411.3,901.1 396.7,886.5" fill="#ffffff" />
<polygon points="411.3,872.0 425.9,886.5 411.3,901.1 396.7,886.5" fill="url(#dsh)" />
<path d="M398.72 884.52L411.33 871.95L423.94 884.52" fill="none" stroke="#8c8b94" stroke-opacity="0.5" stroke-width="4.6" stroke-linejoin="miter"/>
<rect x="459.96" y="870.35" width="32.42" height="32.35" fill="#88878f"/>
<polygon points="476.2,872.0 490.8,886.5 476.2,901.1 461.6,886.5" fill="#ffffff" />
<polygon points="476.2,872.0 490.8,886.5 476.2,901.1 461.6,886.5" fill="url(#dsh)" />
<path d="M463.56 884.52L476.17 871.95L488.78 884.52" fill="none" stroke="#8c8b94" stroke-opacity="0.5" stroke-width="4.6" stroke-linejoin="miter"/>
<rect x="524.80" y="870.35" width="32.42" height="32.35" fill="#88878f"/>
<polygon points="541.0,872.0 555.6,886.5 541.0,901.1 526.4,886.5" fill="#ffffff" />
<polygon points="541.0,872.0 555.6,886.5 541.0,901.1 526.4,886.5" fill="url(#dsh)" />
<path d="M528.40 884.52L541.01 871.95L553.62 884.52" fill="none" stroke="#8c8b94" stroke-opacity="0.5" stroke-width="4.6" stroke-linejoin="miter"/>
<rect x="362.70" y="902.70" width="32.42" height="32.35" fill="#88878f"/>
<polygon points="378.9,904.3 393.5,918.9 378.9,933.5 364.3,918.9" fill="#ffffff" />
<polygon points="378.9,904.3 393.5,918.9 378.9,933.5 364.3,918.9" fill="url(#dsh)" />
<path d="M366.30 916.88L378.91 904.30L391.52 916.88" fill="none" stroke="#8c8b94" stroke-opacity="0.5" stroke-width="4.6" stroke-linejoin="miter"/>
<rect x="427.54" y="902.70" width="32.42" height="32.35" fill="#88878f"/>
<polygon points="443.7,904.3 458.4,918.9 443.7,933.5 429.1,918.9" fill="#ffffff" />
<polygon points="443.7,904.3 458.4,918.9 443.7,933.5 429.1,918.9" fill="url(#dsh)" />
<path d="M431.14 916.88L443.75 904.30L456.36 916.88" fill="none" stroke="#8c8b94" stroke-opacity="0.5" stroke-width="4.6" stroke-linejoin="miter"/>
<rect x="492.38" y="902.70" width="32.42" height="32.35" fill="#88878f"/>
<polygon points="508.6,904.3 523.2,918.9 508.6,933.5 494.0,918.9" fill="#ffffff" />
<polygon points="508.6,904.3 523.2,918.9 508.6,933.5 494.0,918.9" fill="url(#dsh)" />
<path d="M495.98 916.88L508.59 904.30L521.20 916.88" fill="none" stroke="#8c8b94" stroke-opacity="0.5" stroke-width="4.6" stroke-linejoin="miter"/>
<rect x="557.22" y="902.70" width="32.42" height="32.35" fill="#88878f"/>
<polygon points="573.4,904.3 588.0,918.9 573.4,933.5 558.8,918.9" fill="#ffffff" />
<polygon points="573.4,904.3 588.0,918.9 573.4,933.5 558.8,918.9" fill="url(#dsh)" />
<path d="M560.82 916.88L573.43 904.30L586.04 916.88" fill="none" stroke="#8c8b94" stroke-opacity="0.5" stroke-width="4.6" stroke-linejoin="miter"/>
<line x1="341.6" y1="821" x2="410" y2="821" stroke="#f80606" stroke-width="4.6"/>
<polygon points="433.8,821.0 406.0,811.2 409.5,821.0 406.0,830.8" fill="#f80606" />
<line x1="534.3" y1="821" x2="602" y2="821" stroke="#f80606" stroke-width="4.6"/>
<polygon points="628.0,821.0 598.2,811.0 601.8,821.0 598.2,831.0" fill="#f80606" />
<path d="M378.91 709.60L394.12 724.77L378.91 739.95L363.70 724.77Z" fill="none" stroke="#dcde62" stroke-width="1.5"/>
<path d="M411.33 708.60L427.54 724.77L411.33 740.95L395.12 724.77Z" fill="none" stroke="#e4ad6c" stroke-width="1.35"/>
<path d="M443.75 709.60L458.96 724.77L443.75 739.95L428.54 724.77Z" fill="none" stroke="#dcde62" stroke-width="1.5"/>
<path d="M476.17 708.60L492.38 724.77L476.17 740.95L459.96 724.77Z" fill="none" stroke="#e4ad6c" stroke-width="1.35"/>
<path d="M508.59 709.60L523.80 724.77L508.59 739.95L493.38 724.77Z" fill="none" stroke="#dcde62" stroke-width="1.5"/>
<path d="M541.01 708.60L557.22 724.77L541.01 740.95L524.80 724.77Z" fill="none" stroke="#e4ad6c" stroke-width="1.35"/>
<path d="M573.43 709.60L588.64 724.77L573.43 739.95L558.22 724.77Z" fill="none" stroke="#dcde62" stroke-width="1.5"/>
<path d="M378.91 740.95L395.12 757.12L378.91 773.30L362.70 757.12Z" fill="none" stroke="#e4ad6c" stroke-width="1.35"/>
<path d="M411.33 741.95L426.54 757.12L411.33 772.30L396.12 757.12Z" fill="none" stroke="#dcde62" stroke-width="1.5"/>
<path d="M443.75 740.95L459.96 757.12L443.75 773.30L427.54 757.12Z" fill="none" stroke="#e4ad6c" stroke-width="1.35"/>
<path d="M476.17 741.95L491.38 757.12L476.17 772.30L460.96 757.12Z" fill="none" stroke="#dcde62" stroke-width="1.5"/>
<path d="M508.59 740.95L524.80 757.12L508.59 773.30L492.38 757.12Z" fill="none" stroke="#e4ad6c" stroke-width="1.35"/>
<path d="M541.01 741.95L556.22 757.12L541.01 772.30L525.80 757.12Z" fill="none" stroke="#dcde62" stroke-width="1.5"/>
<path d="M573.43 740.95L589.64 757.12L573.43 773.30L557.22 757.12Z" fill="none" stroke="#e4ad6c" stroke-width="1.35"/>
<path d="M378.91 774.30L394.12 789.48L378.91 804.65L363.70 789.48Z" fill="none" stroke="#dcde62" stroke-width="1.5"/>
<path d="M411.33 773.30L427.54 789.48L411.33 805.65L395.12 789.48Z" fill="none" stroke="#e4ad6c" stroke-width="1.35"/>
<path d="M443.75 774.30L458.96 789.48L443.75 804.65L428.54 789.48Z" fill="none" stroke="#dcde62" stroke-width="1.5"/>
<path d="M476.17 773.30L492.38 789.48L476.17 805.65L459.96 789.48Z" fill="none" stroke="#e4ad6c" stroke-width="1.35"/>
<path d="M508.59 774.30L523.80 789.48L508.59 804.65L493.38 789.48Z" fill="none" stroke="#dcde62" stroke-width="1.5"/>
<path d="M541.01 773.30L557.22 789.48L541.01 805.65L524.80 789.48Z" fill="none" stroke="#e4ad6c" stroke-width="1.35"/>
<path d="M573.43 774.30L588.64 789.48L573.43 804.65L558.22 789.48Z" fill="none" stroke="#dcde62" stroke-width="1.5"/>
<path d="M378.91 805.65L395.12 821.83L378.91 838.00L362.70 821.83Z" fill="none" stroke="#e4ad6c" stroke-width="1.35"/>
<path d="M411.33 806.65L426.54 821.83L411.33 837.00L396.12 821.83Z" fill="none" stroke="#dcde62" stroke-width="1.5"/>
<path d="M443.75 805.65L459.96 821.83L443.75 838.00L427.54 821.83Z" fill="none" stroke="#e4ad6c" stroke-width="1.35"/>
<path d="M476.17 806.65L491.38 821.83L476.17 837.00L460.96 821.83Z" fill="none" stroke="#dcde62" stroke-width="1.5"/>
<path d="M508.59 805.65L524.80 821.83L508.59 838.00L492.38 821.83Z" fill="none" stroke="#e4ad6c" stroke-width="1.35"/>
<path d="M541.01 806.65L556.22 821.83L541.01 837.00L525.80 821.83Z" fill="none" stroke="#dcde62" stroke-width="1.5"/>
<path d="M573.43 805.65L589.64 821.83L573.43 838.00L557.22 821.83Z" fill="none" stroke="#e4ad6c" stroke-width="1.35"/>
<path d="M378.91 839.00L394.12 854.17L378.91 869.35L363.70 854.17Z" fill="none" stroke="#dcde62" stroke-width="1.5"/>
<path d="M411.33 838.00L427.54 854.17L411.33 870.35L395.12 854.17Z" fill="none" stroke="#e4ad6c" stroke-width="1.35"/>
<path d="M443.75 839.00L458.96 854.17L443.75 869.35L428.54 854.17Z" fill="none" stroke="#dcde62" stroke-width="1.5"/>
<path d="M476.17 838.00L492.38 854.17L476.17 870.35L459.96 854.17Z" fill="none" stroke="#e4ad6c" stroke-width="1.35"/>
<path d="M508.59 839.00L523.80 854.17L508.59 869.35L493.38 854.17Z" fill="none" stroke="#dcde62" stroke-width="1.5"/>
<path d="M541.01 838.00L557.22 854.17L541.01 870.35L524.80 854.17Z" fill="none" stroke="#e4ad6c" stroke-width="1.35"/>
<path d="M573.43 839.00L588.64 854.17L573.43 869.35L558.22 854.17Z" fill="none" stroke="#dcde62" stroke-width="1.5"/>
<path d="M378.91 870.35L395.12 886.52L378.91 902.70L362.70 886.52Z" fill="none" stroke="#e4ad6c" stroke-width="1.35"/>
<path d="M411.33 871.35L426.54 886.52L411.33 901.70L396.12 886.52Z" fill="none" stroke="#dcde62" stroke-width="1.5"/>
<path d="M443.75 870.35L459.96 886.52L443.75 902.70L427.54 886.52Z" fill="none" stroke="#e4ad6c" stroke-width="1.35"/>
<path d="M476.17 871.35L491.38 886.52L476.17 901.70L460.96 886.52Z" fill="none" stroke="#dcde62" stroke-width="1.5"/>
<path d="M508.59 870.35L524.80 886.52L508.59 902.70L492.38 886.52Z" fill="none" stroke="#e4ad6c" stroke-width="1.35"/>
<path d="M541.01 871.35L556.22 886.52L541.01 901.70L525.80 886.52Z" fill="none" stroke="#dcde62" stroke-width="1.5"/>
<path d="M573.43 870.35L589.64 886.52L573.43 902.70L557.22 886.52Z" fill="none" stroke="#e4ad6c" stroke-width="1.35"/>
<path d="M378.91 903.70L394.12 918.88L378.91 934.05L363.70 918.88Z" fill="none" stroke="#dcde62" stroke-width="1.5"/>
<path d="M411.33 902.70L427.54 918.88L411.33 935.05L395.12 918.88Z" fill="none" stroke="#e4ad6c" stroke-width="1.35"/>
<path d="M443.75 903.70L458.96 918.88L443.75 934.05L428.54 918.88Z" fill="none" stroke="#dcde62" stroke-width="1.5"/>
<path d="M476.17 902.70L492.38 918.88L476.17 935.05L459.96 918.88Z" fill="none" stroke="#e4ad6c" stroke-width="1.35"/>
<path d="M508.59 903.70L523.80 918.88L508.59 934.05L493.38 918.88Z" fill="none" stroke="#dcde62" stroke-width="1.5"/>
<path d="M541.01 902.70L557.22 918.88L541.01 935.05L524.80 918.88Z" fill="none" stroke="#e4ad6c" stroke-width="1.35"/>
<path d="M573.43 903.70L588.64 918.88L573.43 934.05L558.22 918.88Z" fill="none" stroke="#dcde62" stroke-width="1.5"/>
<line x1="362.70" y1="708.60" x2="362.70" y2="740.95" stroke="#d6c96c" stroke-width="1.6"/>
<line x1="362.70" y1="708.60" x2="395.12" y2="708.60" stroke="#d6c96c" stroke-width="1.6"/>
<line x1="362.70" y1="740.95" x2="362.70" y2="773.30" stroke="#d6c96c" stroke-width="1.6"/>
<line x1="395.12" y1="708.60" x2="427.54" y2="708.60" stroke="#d6c96c" stroke-width="1.6"/>
<line x1="362.70" y1="773.30" x2="362.70" y2="805.65" stroke="#d6c96c" stroke-width="1.6"/>
<line x1="427.54" y1="708.60" x2="459.96" y2="708.60" stroke="#d6c96c" stroke-width="1.6"/>
<line x1="362.70" y1="805.65" x2="362.70" y2="838.00" stroke="#d6c96c" stroke-width="1.6"/>
<line x1="459.96" y1="708.60" x2="492.38" y2="708.60" stroke="#d6c96c" stroke-width="1.6"/>
<line x1="362.70" y1="838.00" x2="362.70" y2="870.35" stroke="#d6c96c" stroke-width="1.6"/>
<line x1="492.38" y1="708.60" x2="524.80" y2="708.60" stroke="#d6c96c" stroke-width="1.6"/>
<line x1="362.70" y1="870.35" x2="362.70" y2="902.70" stroke="#d6c96c" stroke-width="1.6"/>
<line x1="524.80" y1="708.60" x2="557.22" y2="708.60" stroke="#d6c96c" stroke-width="1.6"/>
<line x1="362.70" y1="902.70" x2="362.70" y2="935.05" stroke="#d6c96c" stroke-width="1.6"/>
<line x1="557.22" y1="708.60" x2="589.64" y2="708.60" stroke="#d6c96c" stroke-width="1.6"/>
<line x1="395.12" y1="708.60" x2="395.12" y2="740.95" stroke="#d6c96c" stroke-width="1.6"/>
<line x1="362.70" y1="740.95" x2="395.12" y2="740.95" stroke="#d6c96c" stroke-width="1.6"/>
<line x1="395.12" y1="740.95" x2="395.12" y2="773.30" stroke="#d6c96c" stroke-width="1.6"/>
<line x1="395.12" y1="740.95" x2="427.54" y2="740.95" stroke="#d6c96c" stroke-width="1.6"/>
<line x1="395.12" y1="773.30" x2="395.12" y2="805.65" stroke="#d6c96c" stroke-width="1.6"/>
<line x1="427.54" y1="740.95" x2="459.96" y2="740.95" stroke="#d6c96c" stroke-width="1.6"/>
<line x1="395.12" y1="805.65" x2="395.12" y2="838.00" stroke="#d6c96c" stroke-width="1.6"/>
<line x1="459.96" y1="740.95" x2="492.38" y2="740.95" stroke="#d6c96c" stroke-width="1.6"/>
<line x1="395.12" y1="838.00" x2="395.12" y2="870.35" stroke="#d6c96c" stroke-width="1.6"/>
<line x1="492.38" y1="740.95" x2="524.80" y2="740.95" stroke="#d6c96c" stroke-width="1.6"/>
<line x1="395.12" y1="870.35" x2="395.12" y2="902.70" stroke="#d6c96c" stroke-width="1.6"/>
<line x1="524.80" y1="740.95" x2="557.22" y2="740.95" stroke="#d6c96c" stroke-width="1.6"/>
<line x1="395.12" y1="902.70" x2="395.12" y2="935.05" stroke="#d6c96c" stroke-width="1.6"/>
<line x1="557.22" y1="740.95" x2="589.64" y2="740.95" stroke="#d6c96c" stroke-width="1.6"/>
<line x1="427.54" y1="708.60" x2="427.54" y2="740.95" stroke="#d6c96c" stroke-width="1.6"/>
<line x1="362.70" y1="773.30" x2="395.12" y2="773.30" stroke="#d6c96c" stroke-width="1.6"/>
<line x1="427.54" y1="740.95" x2="427.54" y2="773.30" stroke="#d6c96c" stroke-width="1.6"/>
<line x1="395.12" y1="773.30" x2="427.54" y2="773.30" stroke="#d6c96c" stroke-width="1.6"/>
<line x1="427.54" y1="773.30" x2="427.54" y2="805.65" stroke="#d6c96c" stroke-width="1.6"/>
<line x1="427.54" y1="773.30" x2="459.96" y2="773.30" stroke="#d6c96c" stroke-width="1.6"/>
<line x1="427.54" y1="805.65" x2="427.54" y2="838.00" stroke="#d6c96c" stroke-width="1.6"/>
<line x1="459.96" y1="773.30" x2="492.38" y2="773.30" stroke="#d6c96c" stroke-width="1.6"/>
<line x1="427.54" y1="838.00" x2="427.54" y2="870.35" stroke="#d6c96c" stroke-width="1.6"/>
<line x1="492.38" y1="773.30" x2="524.80" y2="773.30" stroke="#d6c96c" stroke-width="1.6"/>
<line x1="427.54" y1="870.35" x2="427.54" y2="902.70" stroke="#d6c96c" stroke-width="1.6"/>
<line x1="524.80" y1="773.30" x2="557.22" y2="773.30" stroke="#d6c96c" stroke-width="1.6"/>
<line x1="427.54" y1="902.70" x2="427.54" y2="935.05" stroke="#d6c96c" stroke-width="1.6"/>
<line x1="557.22" y1="773.30" x2="589.64" y2="773.30" stroke="#d6c96c" stroke-width="1.6"/>
<line x1="459.96" y1="708.60" x2="459.96" y2="740.95" stroke="#d6c96c" stroke-width="1.6"/>
<line x1="362.70" y1="805.65" x2="395.12" y2="805.65" stroke="#d6c96c" stroke-width="1.6"/>
<line x1="459.96" y1="740.95" x2="459.96" y2="773.30" stroke="#d6c96c" stroke-width="1.6"/>
<line x1="395.12" y1="805.65" x2="427.54" y2="805.65" stroke="#d6c96c" stroke-width="1.6"/>
<line x1="459.96" y1="773.30" x2="459.96" y2="805.65" stroke="#d6c96c" stroke-width="1.6"/>
<line x1="427.54" y1="805.65" x2="459.96" y2="805.65" stroke="#d6c96c" stroke-width="1.6"/>
<line x1="459.96" y1="805.65" x2="459.96" y2="838.00" stroke="#d6c96c" stroke-width="1.6"/>
<line x1="459.96" y1="805.65" x2="492.38" y2="805.65" stroke="#d6c96c" stroke-width="1.6"/>
<line x1="459.96" y1="838.00" x2="459.96" y2="870.35" stroke="#d6c96c" stroke-width="1.6"/>
<line x1="492.38" y1="805.65" x2="524.80" y2="805.65" stroke="#d6c96c" stroke-width="1.6"/>
<line x1="459.96" y1="870.35" x2="459.96" y2="902.70" stroke="#d6c96c" stroke-width="1.6"/>
<line x1="524.80" y1="805.65" x2="557.22" y2="805.65" stroke="#d6c96c" stroke-width="1.6"/>
<line x1="459.96" y1="902.70" x2="459.96" y2="935.05" stroke="#d6c96c" stroke-width="1.6"/>
<line x1="557.22" y1="805.65" x2="589.64" y2="805.65" stroke="#d6c96c" stroke-width="1.6"/>
<line x1="492.38" y1="708.60" x2="492.38" y2="740.95" stroke="#d6c96c" stroke-width="1.6"/>
<line x1="362.70" y1="838.00" x2="395.12" y2="838.00" stroke="#d6c96c" stroke-width="1.6"/>
<line x1="492.38" y1="740.95" x2="492.38" y2="773.30" stroke="#d6c96c" stroke-width="1.6"/>
<line x1="395.12" y1="838.00" x2="427.54" y2="838.00" stroke="#d6c96c" stroke-width="1.6"/>
<line x1="492.38" y1="773.30" x2="492.38" y2="805.65" stroke="#d6c96c" stroke-width="1.6"/>
<line x1="427.54" y1="838.00" x2="459.96" y2="838.00" stroke="#d6c96c" stroke-width="1.6"/>
<line x1="492.38" y1="805.65" x2="492.38" y2="838.00" stroke="#d6c96c" stroke-width="1.6"/>
<line x1="459.96" y1="838.00" x2="492.38" y2="838.00" stroke="#d6c96c" stroke-width="1.6"/>
<line x1="492.38" y1="838.00" x2="492.38" y2="870.35" stroke="#d6c96c" stroke-width="1.6"/>
<line x1="492.38" y1="838.00" x2="524.80" y2="838.00" stroke="#d6c96c" stroke-width="1.6"/>
<line x1="492.38" y1="870.35" x2="492.38" y2="902.70" stroke="#d6c96c" stroke-width="1.6"/>
<line x1="524.80" y1="838.00" x2="557.22" y2="838.00" stroke="#d6c96c" stroke-width="1.6"/>
<line x1="492.38" y1="902.70" x2="492.38" y2="935.05" stroke="#d6c96c" stroke-width="1.6"/>
<line x1="557.22" y1="838.00" x2="589.64" y2="838.00" stroke="#d6c96c" stroke-width="1.6"/>
<line x1="524.80" y1="708.60" x2="524.80" y2="740.95" stroke="#d6c96c" stroke-width="1.6"/>
<line x1="362.70" y1="870.35" x2="395.12" y2="870.35" stroke="#d6c96c" stroke-width="1.6"/>
<line x1="524.80" y1="740.95" x2="524.80" y2="773.30" stroke="#d6c96c" stroke-width="1.6"/>
<line x1="395.12" y1="870.35" x2="427.54" y2="870.35" stroke="#d6c96c" stroke-width="1.6"/>
<line x1="524.80" y1="773.30" x2="524.80" y2="805.65" stroke="#d6c96c" stroke-width="1.6"/>
<line x1="427.54" y1="870.35" x2="459.96" y2="870.35" stroke="#d6c96c" stroke-width="1.6"/>
<line x1="524.80" y1="805.65" x2="524.80" y2="838.00" stroke="#d6c96c" stroke-width="1.6"/>
<line x1="459.96" y1="870.35" x2="492.38" y2="870.35" stroke="#d6c96c" stroke-width="1.6"/>
<line x1="524.80" y1="838.00" x2="524.80" y2="870.35" stroke="#d6c96c" stroke-width="1.6"/>
<line x1="492.38" y1="870.35" x2="524.80" y2="870.35" stroke="#d6c96c" stroke-width="1.6"/>
<line x1="524.80" y1="870.35" x2="524.80" y2="902.70" stroke="#d6c96c" stroke-width="1.6"/>
<line x1="524.80" y1="870.35" x2="557.22" y2="870.35" stroke="#d6c96c" stroke-width="1.6"/>
<line x1="524.80" y1="902.70" x2="524.80" y2="935.05" stroke="#d6c96c" stroke-width="1.6"/>
<line x1="557.22" y1="870.35" x2="589.64" y2="870.35" stroke="#d6c96c" stroke-width="1.6"/>
<line x1="557.22" y1="708.60" x2="557.22" y2="740.95" stroke="#d6c96c" stroke-width="1.6"/>
<line x1="362.70" y1="902.70" x2="395.12" y2="902.70" stroke="#d6c96c" stroke-width="1.6"/>
<line x1="557.22" y1="740.95" x2="557.22" y2="773.30" stroke="#d6c96c" stroke-width="1.6"/>
<line x1="395.12" y1="902.70" x2="427.54" y2="902.70" stroke="#d6c96c" stroke-width="1.6"/>
<line x1="557.22" y1="773.30" x2="557.22" y2="805.65" stroke="#d6c96c" stroke-width="1.6"/>
<line x1="427.54" y1="902.70" x2="459.96" y2="902.70" stroke="#d6c96c" stroke-width="1.6"/>
<line x1="557.22" y1="805.65" x2="557.22" y2="838.00" stroke="#d6c96c" stroke-width="1.6"/>
<line x1="459.96" y1="902.70" x2="492.38" y2="902.70" stroke="#d6c96c" stroke-width="1.6"/>
<line x1="557.22" y1="838.00" x2="557.22" y2="870.35" stroke="#d6c96c" stroke-width="1.6"/>
<line x1="492.38" y1="902.70" x2="524.80" y2="902.70" stroke="#d6c96c" stroke-width="1.6"/>
<line x1="557.22" y1="870.35" x2="557.22" y2="902.70" stroke="#d6c96c" stroke-width="1.6"/>
<line x1="524.80" y1="902.70" x2="557.22" y2="902.70" stroke="#d6c96c" stroke-width="1.6"/>
<line x1="557.22" y1="902.70" x2="557.22" y2="935.05" stroke="#d6c96c" stroke-width="1.6"/>
<line x1="557.22" y1="902.70" x2="589.64" y2="902.70" stroke="#d6c96c" stroke-width="1.6"/>
<line x1="589.64" y1="708.60" x2="589.64" y2="740.95" stroke="#d6c96c" stroke-width="1.6"/>
<line x1="362.70" y1="935.05" x2="395.12" y2="935.05" stroke="#d6c96c" stroke-width="1.6"/>
<line x1="589.64" y1="740.95" x2="589.64" y2="773.30" stroke="#d6c96c" stroke-width="1.6"/>
<line x1="395.12" y1="935.05" x2="427.54" y2="935.05" stroke="#d6c96c" stroke-width="1.6"/>
<line x1="589.64" y1="773.30" x2="589.64" y2="805.65" stroke="#d6c96c" stroke-width="1.6"/>
<line x1="427.54" y1="935.05" x2="459.96" y2="935.05" stroke="#d6c96c" stroke-width="1.6"/>
<line x1="589.64" y1="805.65" x2="589.64" y2="838.00" stroke="#d6c96c" stroke-width="1.6"/>
<line x1="459.96" y1="935.05" x2="492.38" y2="935.05" stroke="#d6c96c" stroke-width="1.6"/>
<line x1="589.64" y1="838.00" x2="589.64" y2="870.35" stroke="#d6c96c" stroke-width="1.6"/>
<line x1="492.38" y1="935.05" x2="524.80" y2="935.05" stroke="#d6c96c" stroke-width="1.6"/>
<line x1="589.64" y1="870.35" x2="589.64" y2="902.70" stroke="#d6c96c" stroke-width="1.6"/>
<line x1="524.80" y1="935.05" x2="557.22" y2="935.05" stroke="#d6c96c" stroke-width="1.6"/>
<line x1="589.64" y1="902.70" x2="589.64" y2="935.05" stroke="#d6c96c" stroke-width="1.6"/>
<line x1="557.22" y1="935.05" x2="589.64" y2="935.05" stroke="#d6c96c" stroke-width="1.6"/>
<circle cx="362.70" cy="708.60" r="1.6" fill="#3fb597"/>
<circle cx="378.91" cy="708.60" r="1.6" fill="#3fb597"/>
<circle cx="395.12" cy="708.60" r="1.6" fill="#3fb597"/>
<circle cx="411.33" cy="708.60" r="1.6" fill="#3fb597"/>
<circle cx="427.54" cy="708.60" r="1.6" fill="#3fb597"/>
<circle cx="443.75" cy="708.60" r="1.6" fill="#3fb597"/>
<circle cx="459.96" cy="708.60" r="1.6" fill="#3fb597"/>
<circle cx="476.17" cy="708.60" r="1.6" fill="#3fb597"/>
<circle cx="492.38" cy="708.60" r="1.6" fill="#3fb597"/>
<circle cx="508.59" cy="708.60" r="1.6" fill="#3fb597"/>
<circle cx="524.80" cy="708.60" r="1.6" fill="#3fb597"/>
<circle cx="541.01" cy="708.60" r="1.6" fill="#3fb597"/>
<circle cx="557.22" cy="708.60" r="1.6" fill="#3fb597"/>
<circle cx="573.43" cy="708.60" r="1.6" fill="#3fb597"/>
<circle cx="589.64" cy="708.60" r="1.6" fill="#3fb597"/>
<circle cx="362.70" cy="724.77" r="1.6" fill="#3fb597"/>
<circle cx="395.12" cy="724.77" r="1.6" fill="#3fb597"/>
<circle cx="427.54" cy="724.77" r="1.6" fill="#3fb597"/>
<circle cx="459.96" cy="724.77" r="1.6" fill="#3fb597"/>
<circle cx="492.38" cy="724.77" r="1.6" fill="#3fb597"/>
<circle cx="524.80" cy="724.77" r="1.6" fill="#3fb597"/>
<circle cx="557.22" cy="724.77" r="1.6" fill="#3fb597"/>
<circle cx="589.64" cy="724.77" r="1.6" fill="#3fb597"/>
<circle cx="362.70" cy="740.95" r="1.6" fill="#3fb597"/>
<circle cx="378.91" cy="740.95" r="1.6" fill="#3fb597"/>
<circle cx="395.12" cy="740.95" r="1.6" fill="#3fb597"/>
<circle cx="411.33" cy="740.95" r="1.6" fill="#3fb597"/>
<circle cx="427.54" cy="740.95" r="1.6" fill="#3fb597"/>
<circle cx="443.75" cy="740.95" r="1.6" fill="#3fb597"/>
<circle cx="459.96" cy="740.95" r="1.6" fill="#3fb597"/>
<circle cx="476.17" cy="740.95" r="1.6" fill="#3fb597"/>
<circle cx="492.38" cy="740.95" r="1.6" fill="#3fb597"/>
<circle cx="508.59" cy="740.95" r="1.6" fill="#3fb597"/>
<circle cx="524.80" cy="740.95" r="1.6" fill="#3fb597"/>
<circle cx="541.01" cy="740.95" r="1.6" fill="#3fb597"/>
<circle cx="557.22" cy="740.95" r="1.6" fill="#3fb597"/>
<circle cx="573.43" cy="740.95" r="1.6" fill="#3fb597"/>
<circle cx="589.64" cy="740.95" r="1.6" fill="#3fb597"/>
<circle cx="362.70" cy="757.12" r="1.6" fill="#3fb597"/>
<circle cx="395.12" cy="757.12" r="1.6" fill="#3fb597"/>
<circle cx="427.54" cy="757.12" r="1.6" fill="#3fb597"/>
<circle cx="459.96" cy="757.12" r="1.6" fill="#3fb597"/>
<circle cx="492.38" cy="757.12" r="1.6" fill="#3fb597"/>
<circle cx="524.80" cy="757.12" r="1.6" fill="#3fb597"/>
<circle cx="557.22" cy="757.12" r="1.6" fill="#3fb597"/>
<circle cx="589.64" cy="757.12" r="1.6" fill="#3fb597"/>
<circle cx="362.70" cy="773.30" r="1.6" fill="#3fb597"/>
<circle cx="378.91" cy="773.30" r="1.6" fill="#3fb597"/>
<circle cx="395.12" cy="773.30" r="1.6" fill="#3fb597"/>
<circle cx="411.33" cy="773.30" r="1.6" fill="#3fb597"/>
<circle cx="427.54" cy="773.30" r="1.6" fill="#3fb597"/>
<circle cx="443.75" cy="773.30" r="1.6" fill="#3fb597"/>
<circle cx="459.96" cy="773.30" r="1.6" fill="#3fb597"/>
<circle cx="476.17" cy="773.30" r="1.6" fill="#3fb597"/>
<circle cx="492.38" cy="773.30" r="1.6" fill="#3fb597"/>
<circle cx="508.59" cy="773.30" r="1.6" fill="#3fb597"/>
<circle cx="524.80" cy="773.30" r="1.6" fill="#3fb597"/>
<circle cx="541.01" cy="773.30" r="1.6" fill="#3fb597"/>
<circle cx="557.22" cy="773.30" r="1.6" fill="#3fb597"/>
<circle cx="573.43" cy="773.30" r="1.6" fill="#3fb597"/>
<circle cx="589.64" cy="773.30" r="1.6" fill="#3fb597"/>
<circle cx="362.70" cy="789.48" r="1.6" fill="#3fb597"/>
<circle cx="395.12" cy="789.48" r="1.6" fill="#3fb597"/>
<circle cx="427.54" cy="789.48" r="1.6" fill="#3fb597"/>
<circle cx="459.96" cy="789.48" r="1.6" fill="#3fb597"/>
<circle cx="492.38" cy="789.48" r="1.6" fill="#3fb597"/>
<circle cx="524.80" cy="789.48" r="1.6" fill="#3fb597"/>
<circle cx="557.22" cy="789.48" r="1.6" fill="#3fb597"/>
<circle cx="589.64" cy="789.48" r="1.6" fill="#3fb597"/>
<circle cx="362.70" cy="805.65" r="1.6" fill="#3fb597"/>
<circle cx="378.91" cy="805.65" r="1.6" fill="#3fb597"/>
<circle cx="395.12" cy="805.65" r="1.6" fill="#3fb597"/>
<circle cx="411.33" cy="805.65" r="1.6" fill="#3fb597"/>
<circle cx="427.54" cy="805.65" r="1.6" fill="#3fb597"/>
<circle cx="443.75" cy="805.65" r="1.6" fill="#3fb597"/>
<circle cx="459.96" cy="805.65" r="1.6" fill="#3fb597"/>
<circle cx="476.17" cy="805.65" r="1.6" fill="#3fb597"/>
<circle cx="492.38" cy="805.65" r="1.6" fill="#3fb597"/>
<circle cx="508.59" cy="805.65" r="1.6" fill="#3fb597"/>
<circle cx="524.80" cy="805.65" r="1.6" fill="#3fb597"/>
<circle cx="541.01" cy="805.65" r="1.6" fill="#3fb597"/>
<circle cx="557.22" cy="805.65" r="1.6" fill="#3fb597"/>
<circle cx="573.43" cy="805.65" r="1.6" fill="#3fb597"/>
<circle cx="589.64" cy="805.65" r="1.6" fill="#3fb597"/>
<circle cx="362.70" cy="821.83" r="1.6" fill="#3fb597"/>
<circle cx="395.12" cy="821.83" r="1.6" fill="#3fb597"/>
<circle cx="427.54" cy="821.83" r="1.6" fill="#3fb597"/>
<circle cx="459.96" cy="821.83" r="1.6" fill="#3fb597"/>
<circle cx="492.38" cy="821.83" r="1.6" fill="#3fb597"/>
<circle cx="524.80" cy="821.83" r="1.6" fill="#3fb597"/>
<circle cx="557.22" cy="821.83" r="1.6" fill="#3fb597"/>
<circle cx="589.64" cy="821.83" r="1.6" fill="#3fb597"/>
<circle cx="362.70" cy="838.00" r="1.6" fill="#3fb597"/>
<circle cx="378.91" cy="838.00" r="1.6" fill="#3fb597"/>
<circle cx="395.12" cy="838.00" r="1.6" fill="#3fb597"/>
<circle cx="411.33" cy="838.00" r="1.6" fill="#3fb597"/>
<circle cx="427.54" cy="838.00" r="1.6" fill="#3fb597"/>
<circle cx="443.75" cy="838.00" r="1.6" fill="#3fb597"/>
<circle cx="459.96" cy="838.00" r="1.6" fill="#3fb597"/>
<circle cx="476.17" cy="838.00" r="1.6" fill="#3fb597"/>
<circle cx="492.38" cy="838.00" r="1.6" fill="#3fb597"/>
<circle cx="508.59" cy="838.00" r="1.6" fill="#3fb597"/>
<circle cx="524.80" cy="838.00" r="1.6" fill="#3fb597"/>
<circle cx="541.01" cy="838.00" r="1.6" fill="#3fb597"/>
<circle cx="557.22" cy="838.00" r="1.6" fill="#3fb597"/>
<circle cx="573.43" cy="838.00" r="1.6" fill="#3fb597"/>
<circle cx="589.64" cy="838.00" r="1.6" fill="#3fb597"/>
<circle cx="362.70" cy="854.18" r="1.6" fill="#3fb597"/>
<circle cx="395.12" cy="854.18" r="1.6" fill="#3fb597"/>
<circle cx="427.54" cy="854.18" r="1.6" fill="#3fb597"/>
<circle cx="459.96" cy="854.18" r="1.6" fill="#3fb597"/>
<circle cx="492.38" cy="854.18" r="1.6" fill="#3fb597"/>
<circle cx="524.80" cy="854.18" r="1.6" fill="#3fb597"/>
<circle cx="557.22" cy="854.18" r="1.6" fill="#3fb597"/>
<circle cx="589.64" cy="854.18" r="1.6" fill="#3fb597"/>
<circle cx="362.70" cy="870.35" r="1.6" fill="#3fb597"/>
<circle cx="378.91" cy="870.35" r="1.6" fill="#3fb597"/>
<circle cx="395.12" cy="870.35" r="1.6" fill="#3fb597"/>
<circle cx="411.33" cy="870.35" r="1.6" fill="#3fb597"/>
<circle cx="427.54" cy="870.35" r="1.6" fill="#3fb597"/>
<circle cx="443.75" cy="870.35" r="1.6" fill="#3fb597"/>
<circle cx="459.96" cy="870.35" r="1.6" fill="#3fb597"/>
<circle cx="476.17" cy="870.35" r="1.6" fill="#3fb597"/>
<circle cx="492.38" cy="870.35" r="1.6" fill="#3fb597"/>
<circle cx="508.59" cy="870.35" r="1.6" fill="#3fb597"/>
<circle cx="524.80" cy="870.35" r="1.6" fill="#3fb597"/>
<circle cx="541.01" cy="870.35" r="1.6" fill="#3fb597"/>
<circle cx="557.22" cy="870.35" r="1.6" fill="#3fb597"/>
<circle cx="573.43" cy="870.35" r="1.6" fill="#3fb597"/>
<circle cx="589.64" cy="870.35" r="1.6" fill="#3fb597"/>
<circle cx="362.70" cy="886.53" r="1.6" fill="#3fb597"/>
<circle cx="395.12" cy="886.53" r="1.6" fill="#3fb597"/>
<circle cx="427.54" cy="886.53" r="1.6" fill="#3fb597"/>
<circle cx="459.96" cy="886.53" r="1.6" fill="#3fb597"/>
<circle cx="492.38" cy="886.53" r="1.6" fill="#3fb597"/>
<circle cx="524.80" cy="886.53" r="1.6" fill="#3fb597"/>
<circle cx="557.22" cy="886.53" r="1.6" fill="#3fb597"/>
<circle cx="589.64" cy="886.53" r="1.6" fill="#3fb597"/>
<circle cx="362.70" cy="902.70" r="1.6" fill="#3fb597"/>
<circle cx="378.91" cy="902.70" r="1.6" fill="#3fb597"/>
<circle cx="395.12" cy="902.70" r="1.6" fill="#3fb597"/>
<circle cx="411.33" cy="902.70" r="1.6" fill="#3fb597"/>
<circle cx="427.54" cy="902.70" r="1.6" fill="#3fb597"/>
<circle cx="443.75" cy="902.70" r="1.6" fill="#3fb597"/>
<circle cx="459.96" cy="902.70" r="1.6" fill="#3fb597"/>
<circle cx="476.17" cy="902.70" r="1.6" fill="#3fb597"/>
<circle cx="492.38" cy="902.70" r="1.6" fill="#3fb597"/>
<circle cx="508.59" cy="902.70" r="1.6" fill="#3fb597"/>
<circle cx="524.80" cy="902.70" r="1.6" fill="#3fb597"/>
<circle cx="541.01" cy="902.70" r="1.6" fill="#3fb597"/>
<circle cx="557.22" cy="902.70" r="1.6" fill="#3fb597"/>
<circle cx="573.43" cy="902.70" r="1.6" fill="#3fb597"/>
<circle cx="589.64" cy="902.70" r="1.6" fill="#3fb597"/>
<circle cx="362.70" cy="918.88" r="1.6" fill="#3fb597"/>
<circle cx="395.12" cy="918.88" r="1.6" fill="#3fb597"/>
<circle cx="427.54" cy="918.88" r="1.6" fill="#3fb597"/>
<circle cx="459.96" cy="918.88" r="1.6" fill="#3fb597"/>
<circle cx="492.38" cy="918.88" r="1.6" fill="#3fb597"/>
<circle cx="524.80" cy="918.88" r="1.6" fill="#3fb597"/>
<circle cx="557.22" cy="918.88" r="1.6" fill="#3fb597"/>
<circle cx="589.64" cy="918.88" r="1.6" fill="#3fb597"/>
<circle cx="362.70" cy="935.05" r="1.6" fill="#3fb597"/>
<circle cx="378.91" cy="935.05" r="1.6" fill="#3fb597"/>
<circle cx="395.12" cy="935.05" r="1.6" fill="#3fb597"/>
<circle cx="411.33" cy="935.05" r="1.6" fill="#3fb597"/>
<circle cx="427.54" cy="935.05" r="1.6" fill="#3fb597"/>
<circle cx="443.75" cy="935.05" r="1.6" fill="#3fb597"/>
<circle cx="459.96" cy="935.05" r="1.6" fill="#3fb597"/>
<circle cx="476.17" cy="935.05" r="1.6" fill="#3fb597"/>
<circle cx="492.38" cy="935.05" r="1.6" fill="#3fb597"/>
<circle cx="508.59" cy="935.05" r="1.6" fill="#3fb597"/>
<circle cx="524.80" cy="935.05" r="1.6" fill="#3fb597"/>
<circle cx="541.01" cy="935.05" r="1.6" fill="#3fb597"/>
<circle cx="557.22" cy="935.05" r="1.6" fill="#3fb597"/>
<circle cx="573.43" cy="935.05" r="1.6" fill="#3fb597"/>
<circle cx="589.64" cy="935.05" r="1.6" fill="#3fb597"/>
</g>
<g filter="url(#b5)">
<circle cx="378.6" cy="725.2" r="8.0" fill="#b00000"/>
<circle cx="379.5" cy="720.9" r="5.0" fill="url(#redflower)"/>
<circle cx="383.0" cy="724.7" r="5.0" fill="url(#redflower)"/>
<circle cx="380.4" cy="729.2" r="5.0" fill="url(#redflower)"/>
<circle cx="375.3" cy="728.1" r="5.0" fill="url(#redflower)"/>
<circle cx="374.8" cy="723.0" r="5.0" fill="url(#redflower)"/>
<circle cx="378.6" cy="725.2" r="4.4" fill="#e00000"/>
<circle cx="378.6" cy="725.2" r="2.2" fill="#b79a9e"/>
<circle cx="378.6" cy="789.9" r="8.0" fill="#b00000"/>
<circle cx="379.5" cy="785.6" r="5.0" fill="url(#redflower)"/>
<circle cx="383.0" cy="789.4" r="5.0" fill="url(#redflower)"/>
<circle cx="380.4" cy="793.9" r="5.0" fill="url(#redflower)"/>
<circle cx="375.3" cy="792.8" r="5.0" fill="url(#redflower)"/>
<circle cx="374.8" cy="787.7" r="5.0" fill="url(#redflower)"/>
<circle cx="378.6" cy="789.9" r="4.4" fill="#e00000"/>
<circle cx="378.6" cy="789.9" r="2.2" fill="#b79a9e"/>
<circle cx="378.6" cy="854.6" r="8.0" fill="#b00000"/>
<circle cx="379.5" cy="850.3" r="5.0" fill="url(#redflower)"/>
<circle cx="383.0" cy="854.1" r="5.0" fill="url(#redflower)"/>
<circle cx="380.4" cy="858.6" r="5.0" fill="url(#redflower)"/>
<circle cx="375.3" cy="857.5" r="5.0" fill="url(#redflower)"/>
<circle cx="374.8" cy="852.4" r="5.0" fill="url(#redflower)"/>
<circle cx="378.6" cy="854.6" r="4.4" fill="#e00000"/>
<circle cx="378.6" cy="854.6" r="2.2" fill="#b79a9e"/>
<circle cx="378.6" cy="919.3" r="8.0" fill="#b00000"/>
<circle cx="379.5" cy="915.0" r="5.0" fill="url(#redflower)"/>
<circle cx="383.0" cy="918.8" r="5.0" fill="url(#redflower)"/>
<circle cx="380.4" cy="923.3" r="5.0" fill="url(#redflower)"/>
<circle cx="375.3" cy="922.2" r="5.0" fill="url(#redflower)"/>
<circle cx="374.8" cy="917.1" r="5.0" fill="url(#redflower)"/>
<circle cx="378.6" cy="919.3" r="4.4" fill="#e00000"/>
<circle cx="378.6" cy="919.3" r="2.2" fill="#b79a9e"/>
<circle cx="443.4" cy="725.2" r="8.0" fill="#b00000"/>
<circle cx="444.4" cy="720.9" r="5.0" fill="url(#redflower)"/>
<circle cx="447.8" cy="724.7" r="5.0" fill="url(#redflower)"/>
<circle cx="445.2" cy="729.2" r="5.0" fill="url(#redflower)"/>
<circle cx="440.2" cy="728.1" r="5.0" fill="url(#redflower)"/>
<circle cx="439.6" cy="723.0" r="5.0" fill="url(#redflower)"/>
<circle cx="443.4" cy="725.2" r="4.4" fill="#e00000"/>
<circle cx="443.4" cy="725.2" r="2.2" fill="#b79a9e"/>
<circle cx="443.4" cy="919.3" r="8.0" fill="#b00000"/>
<circle cx="444.4" cy="915.0" r="5.0" fill="url(#redflower)"/>
<circle cx="447.8" cy="918.8" r="5.0" fill="url(#redflower)"/>
<circle cx="445.2" cy="923.3" r="5.0" fill="url(#redflower)"/>
<circle cx="440.2" cy="922.2" r="5.0" fill="url(#redflower)"/>
<circle cx="439.6" cy="917.1" r="5.0" fill="url(#redflower)"/>
<circle cx="443.4" cy="919.3" r="4.4" fill="#e00000"/>
<circle cx="443.4" cy="919.3" r="2.2" fill="#b79a9e"/>
<circle cx="508.3" cy="725.2" r="8.0" fill="#b00000"/>
<circle cx="509.2" cy="720.9" r="5.0" fill="url(#redflower)"/>
<circle cx="512.7" cy="724.7" r="5.0" fill="url(#redflower)"/>
<circle cx="510.1" cy="729.2" r="5.0" fill="url(#redflower)"/>
<circle cx="505.0" cy="728.1" r="5.0" fill="url(#redflower)"/>
<circle cx="504.5" cy="723.0" r="5.0" fill="url(#redflower)"/>
<circle cx="508.3" cy="725.2" r="4.4" fill="#e00000"/>
<circle cx="508.3" cy="725.2" r="2.2" fill="#b79a9e"/>
<circle cx="508.3" cy="919.3" r="8.0" fill="#b00000"/>
<circle cx="509.2" cy="915.0" r="5.0" fill="url(#redflower)"/>
<circle cx="512.7" cy="918.8" r="5.0" fill="url(#redflower)"/>
<circle cx="510.1" cy="923.3" r="5.0" fill="url(#redflower)"/>
<circle cx="505.0" cy="922.2" r="5.0" fill="url(#redflower)"/>
<circle cx="504.5" cy="917.1" r="5.0" fill="url(#redflower)"/>
<circle cx="508.3" cy="919.3" r="4.4" fill="#e00000"/>
<circle cx="508.3" cy="919.3" r="2.2" fill="#b79a9e"/>
<circle cx="573.1" cy="725.2" r="8.0" fill="#b00000"/>
<circle cx="574.0" cy="720.9" r="5.0" fill="url(#redflower)"/>
<circle cx="577.5" cy="724.7" r="5.0" fill="url(#redflower)"/>
<circle cx="574.9" cy="729.2" r="5.0" fill="url(#redflower)"/>
<circle cx="569.9" cy="728.1" r="5.0" fill="url(#redflower)"/>
<circle cx="569.3" cy="723.0" r="5.0" fill="url(#redflower)"/>
<circle cx="573.1" cy="725.2" r="4.4" fill="#e00000"/>
<circle cx="573.1" cy="725.2" r="2.2" fill="#b79a9e"/>
<circle cx="573.1" cy="789.9" r="8.0" fill="#b00000"/>
<circle cx="574.0" cy="785.6" r="5.0" fill="url(#redflower)"/>
<circle cx="577.5" cy="789.4" r="5.0" fill="url(#redflower)"/>
<circle cx="574.9" cy="793.9" r="5.0" fill="url(#redflower)"/>
<circle cx="569.9" cy="792.8" r="5.0" fill="url(#redflower)"/>
<circle cx="569.3" cy="787.7" r="5.0" fill="url(#redflower)"/>
<circle cx="573.1" cy="789.9" r="4.4" fill="#e00000"/>
<circle cx="573.1" cy="789.9" r="2.2" fill="#b79a9e"/>
<circle cx="573.1" cy="854.6" r="8.0" fill="#b00000"/>
<circle cx="574.0" cy="850.3" r="5.0" fill="url(#redflower)"/>
<circle cx="577.5" cy="854.1" r="5.0" fill="url(#redflower)"/>
<circle cx="574.9" cy="858.6" r="5.0" fill="url(#redflower)"/>
<circle cx="569.9" cy="857.5" r="5.0" fill="url(#redflower)"/>
<circle cx="569.3" cy="852.4" r="5.0" fill="url(#redflower)"/>
<circle cx="573.1" cy="854.6" r="4.4" fill="#e00000"/>
<circle cx="573.1" cy="854.6" r="2.2" fill="#b79a9e"/>
<circle cx="573.1" cy="919.3" r="8.0" fill="#b00000"/>
<circle cx="574.0" cy="915.0" r="5.0" fill="url(#redflower)"/>
<circle cx="577.5" cy="918.8" r="5.0" fill="url(#redflower)"/>
<circle cx="574.9" cy="923.3" r="5.0" fill="url(#redflower)"/>
<circle cx="569.9" cy="922.2" r="5.0" fill="url(#redflower)"/>
<circle cx="569.3" cy="917.1" r="5.0" fill="url(#redflower)"/>
<circle cx="573.1" cy="919.3" r="4.4" fill="#e00000"/>
<circle cx="573.1" cy="919.3" r="2.2" fill="#b79a9e"/>
</g>
<g filter="url(#b5)">
<circle cx="137.2" cy="708.6" r="12.0" fill="url(#cyan)"/>
<circle cx="183.0" cy="733.5" r="12.0" fill="url(#cyan)"/>
<circle cx="771.1" cy="768.1" r="12.0" fill="url(#cyan)"/>
<circle cx="828.6" cy="799.0" r="12.0" fill="url(#cyan)"/>
</g>
<g filter="url(#b5)">
<polygon points="24.0,789.8 43.7,796.4 62.5,789.8 65.1,808.6 79.5,822.6 65.1,835.7 62.5,854.9 43.2,849.6 24.0,854.9 20.5,835.7 5.2,822.6 20.5,808.6" fill="#e40c0c" />
<polygon points="24.0,789.8 43.7,796.4 41.1,801.6 29.7,805.1" fill="#e61010" />
<polygon points="24.0,789.8 20.5,808.6 29.7,805.1" fill="#cc0808" />
<polygon points="20.5,808.6 29.7,805.1 41.1,801.6 34.9,813.8 31.4,817.8" fill="#8e0202" />
<polygon points="41.1,801.6 47.2,801.2 54.2,814.7 45.4,818.6 34.9,813.8" fill="#ee0e0e" />
<polygon points="47.2,801.2 52.4,805.1 54.2,814.7" fill="#d80a0a" />
<polygon points="43.7,796.4 62.5,789.8 65.1,808.6 52.4,805.1 47.2,801.2" fill="#e81010" />
<polygon points="43.2,797.1 49.4,798.1 46.7,800.9" fill="#7c0202" />
<polygon points="52.4,805.1 65.1,808.6 54.2,814.7" fill="#960303" />
<polygon points="65.1,808.6 79.5,822.6 62.9,828.7 54.2,814.7" fill="#f01010" />
<polygon points="79.5,822.6 65.1,835.7 62.9,828.7" fill="#c20707" />
<polygon points="45.4,818.6 54.2,814.7 62.9,828.7 65.1,835.7 56.8,837.4 44.6,832.6" fill="#f00a0a" />
<polygon points="34.9,813.8 45.4,818.6 44.6,832.6 41.1,824.3" fill="#960303" />
<polygon points="20.5,808.6 5.2,822.6 26.2,826.9 33.6,818.6 31.4,817.8" fill="#ee1010" />
<polygon points="5.2,822.6 20.5,835.7 24.0,832.6 26.2,826.9" fill="#c60808" />
<polygon points="33.6,818.6 24.0,832.6 41.9,832.6" fill="#ff4646" />
<polygon points="24.0,832.9 41.9,832.9 31.9,837.9" fill="#9c0303" />
<polygon points="20.5,835.7 24.0,854.9 31.9,837.9 24.0,832.9" fill="#cc0808" />
<polygon points="24.0,854.9 43.2,849.6 42.4,833.9 31.9,837.9" fill="#f20a0a" />
<polygon points="43.2,849.6 62.5,854.9 56.8,837.4 44.6,832.9 42.4,833.9" fill="#a80404" />
<polygon points="62.5,854.9 65.1,835.7 56.8,837.4" fill="#e81010" />
</g>
<g filter="url(#b5)">
<path d="M239.4 777.2 C245.0 777.2 245.4 780.5 245.4 786 L245.4 812 C245.4 818.5 246.4 821.6 250.2 822 C246.4 822.4 245.4 825.5 245.4 832 L245.4 858 C245.4 864.5 245.0 867.2 239.4 867.2" fill="none" stroke="#000" stroke-width="3.1" stroke-linecap="round" stroke-linejoin="round"/>
</g>
<g filter="url(#b5)">
<circle cx="312.6" cy="763.3" r="10.6" fill="url(#hwhite)"/>
<circle cx="313.4" cy="779.6" r="13.8" fill="url(#ored)"/>
<circle cx="282.9" cy="769.2" r="16.0" fill="url(#ored)"/>
<circle cx="288.5" cy="796.9" r="16.2" fill="url(#ored)"/>
<polygon points="299.3,768.5 276.2,784.1 303.4,793.2" fill="url(#nblue)" />
</g>
<g filter="url(#b5)" stroke-linecap="round">
<line x1="163.9" y1="921.8" x2="165.7" y2="911.4" stroke="#9a9a9a" stroke-width="3.0"/>
<circle cx="165.7" cy="911.4" r="3.1" fill="url(#hgr)"/>
<line x1="149.7" y1="947.2" x2="141.7" y2="953.9" stroke="#9a9a9a" stroke-width="3.0"/>
<circle cx="141.7" cy="953.9" r="3.1" fill="url(#hgr)"/>
<line x1="178.6" y1="947.2" x2="187.9" y2="951.7" stroke="#9a9a9a" stroke-width="3.0"/>
<circle cx="187.9" cy="951.7" r="3.1" fill="url(#hgr)"/>
<circle cx="164.1" cy="938.8" r="11.2" fill="#fafafa" stroke="#cfcfcf" stroke-width="2.2"/>
<line x1="126.1" y1="929.8" x2="116.0" y2="927.4" stroke="#a0a0a0" stroke-width="2.8"/>
<circle cx="116.0" cy="927.4" r="3.3" fill="url(#hgr)"/>
<line x1="149.7" y1="929.8" x2="136.7" y2="923.7" stroke="#2b2b2b" stroke-width="4.2"/>
<line x1="136.7" y1="923.7" x2="137.4" y2="910.0" stroke="#2b2b2b" stroke-width="3.6"/>
<line x1="136.7" y1="923.7" x2="126.1" y2="929.8" stroke="#2b2b2b" stroke-width="3.6"/>
<circle cx="136.7" cy="923.7" r="3.0" fill="#262626"/>
<ellipse cx="137.4" cy="910.0" rx="4.1" ry="4.6" fill="url(#mred)"/>
<ellipse cx="126.1" cy="929.8" rx="5.0" ry="4.5" fill="url(#mred)"/>
<line x1="202.2" y1="928.7" x2="213.6" y2="923.4" stroke="#a0a0a0" stroke-width="2.8"/>
<circle cx="213.6" cy="923.4" r="3.3" fill="url(#hgr)"/>
<line x1="178.6" y1="929.8" x2="190.8" y2="923.0" stroke="#2b2b2b" stroke-width="4.2"/>
<line x1="190.8" y1="923.0" x2="190.2" y2="908.7" stroke="#2b2b2b" stroke-width="3.6"/>
<line x1="190.8" y1="923.0" x2="202.2" y2="928.7" stroke="#2b2b2b" stroke-width="3.6"/>
<circle cx="190.8" cy="923.0" r="3.0" fill="#262626"/>
<ellipse cx="190.2" cy="908.7" rx="4.1" ry="4.6" fill="url(#mred)"/>
<ellipse cx="202.2" cy="928.7" rx="5.0" ry="4.5" fill="url(#mred)"/>
<line x1="176.2" y1="975.5" x2="178.8" y2="989.1" stroke="#a0a0a0" stroke-width="2.8"/>
<circle cx="178.8" cy="989.1" r="3.3" fill="url(#hgr)"/>
<line x1="164.1" y1="955.5" x2="164.8" y2="969.1" stroke="#2b2b2b" stroke-width="4.2"/>
<line x1="164.8" y1="969.1" x2="153.4" y2="975.0" stroke="#2b2b2b" stroke-width="3.6"/>
<line x1="164.8" y1="969.1" x2="176.2" y2="975.5" stroke="#2b2b2b" stroke-width="3.6"/>
<circle cx="164.8" cy="969.1" r="3.0" fill="#262626"/>
<ellipse cx="153.4" cy="975.0" rx="4.1" ry="4.6" fill="url(#mred)"/>
<ellipse cx="176.2" cy="975.5" rx="5.0" ry="4.5" fill="url(#mred)"/>
<polygon points="163.9,921.8 178.6,929.8 178.6,947.2 164.1,955.5 149.7,947.2 149.7,929.8" fill="none" stroke="#2e2e2e" stroke-width="4.4" stroke-linejoin="round"/>
</g>
<g filter="url(#b5)" stroke-linecap="round">
<line x1="727.3" y1="839.0" x2="729.1" y2="828.6" stroke="#9a9a9a" stroke-width="3.0"/>
<circle cx="729.1" cy="828.6" r="3.1" fill="url(#hgr)"/>
<line x1="713.1" y1="864.4" x2="705.1" y2="871.1" stroke="#9a9a9a" stroke-width="3.0"/>
<circle cx="705.1" cy="871.1" r="3.1" fill="url(#hgr)"/>
<line x1="742.0" y1="864.4" x2="751.3" y2="868.9" stroke="#9a9a9a" stroke-width="3.0"/>
<circle cx="751.3" cy="868.9" r="3.1" fill="url(#hgr)"/>
<circle cx="727.5" cy="856.0" r="11.2" fill="#fafafa" stroke="#cfcfcf" stroke-width="2.2"/>
<line x1="689.5" y1="847.0" x2="679.4" y2="844.6" stroke="#a0a0a0" stroke-width="2.8"/>
<circle cx="679.4" cy="844.6" r="3.3" fill="url(#hgr)"/>
<line x1="713.1" y1="847.0" x2="700.1" y2="840.9" stroke="#2b2b2b" stroke-width="4.2"/>
<line x1="700.1" y1="840.9" x2="700.8" y2="827.2" stroke="#2b2b2b" stroke-width="3.6"/>
<line x1="700.1" y1="840.9" x2="689.5" y2="847.0" stroke="#2b2b2b" stroke-width="3.6"/>
<circle cx="700.1" cy="840.9" r="3.0" fill="#262626"/>
<ellipse cx="700.8" cy="827.2" rx="4.1" ry="4.6" fill="url(#mred)"/>
<ellipse cx="689.5" cy="847.0" rx="5.0" ry="4.5" fill="url(#mred)"/>
<line x1="765.6" y1="845.9" x2="777.0" y2="840.6" stroke="#a0a0a0" stroke-width="2.8"/>
<circle cx="777.0" cy="840.6" r="3.3" fill="url(#hgr)"/>
<line x1="742.0" y1="847.0" x2="754.2" y2="840.2" stroke="#2b2b2b" stroke-width="4.2"/>
<line x1="754.2" y1="840.2" x2="753.6" y2="825.9" stroke="#2b2b2b" stroke-width="3.6"/>
<line x1="754.2" y1="840.2" x2="765.6" y2="845.9" stroke="#2b2b2b" stroke-width="3.6"/>
<circle cx="754.2" cy="840.2" r="3.0" fill="#262626"/>
<ellipse cx="753.6" cy="825.9" rx="4.1" ry="4.6" fill="url(#mred)"/>
<ellipse cx="765.6" cy="845.9" rx="5.0" ry="4.5" fill="url(#mred)"/>
<line x1="739.6" y1="892.7" x2="742.2" y2="906.3" stroke="#a0a0a0" stroke-width="2.8"/>
<circle cx="742.2" cy="906.3" r="3.3" fill="url(#hgr)"/>
<line x1="727.5" y1="872.7" x2="728.2" y2="886.3" stroke="#2b2b2b" stroke-width="4.2"/>
<line x1="728.2" y1="886.3" x2="716.8" y2="892.2" stroke="#2b2b2b" stroke-width="3.6"/>
<line x1="728.2" y1="886.3" x2="739.6" y2="892.7" stroke="#2b2b2b" stroke-width="3.6"/>
<circle cx="728.2" cy="886.3" r="3.0" fill="#262626"/>
<ellipse cx="716.8" cy="892.2" rx="4.1" ry="4.6" fill="url(#mred)"/>
<ellipse cx="739.6" cy="892.7" rx="5.0" ry="4.5" fill="url(#mred)"/>
<polygon points="727.3,839.0 742.0,847.0 742.0,864.4 727.5,872.7 713.1,864.4 713.1,847.0" fill="none" stroke="#2e2e2e" stroke-width="4.4" stroke-linejoin="round"/>
</g>
<g filter="url(#b5)">
<polygon points="831.6,937.0 863.2,991.6 800.0,991.6" fill="#9a9a9a" stroke="#dcc46a" stroke-width="1.6" stroke-linejoin="round"/>
</g>
<g filter="url(#bt)" font-family="'Liberation Sans', sans-serif" font-size="30.3" stroke-width="0.45" paint-order="stroke">
<text transform="translate(475.1 162.2) scale(1.0 1.06)" fill="#2020ea" stroke="#2020ea" text-anchor="middle">PHG &amp; IDE</text>
<text transform="translate(475.1 618.9) scale(1.0 1.06)" fill="#2020ea" stroke="#2020ea" text-anchor="middle">PHG &amp; IDE</text>
<text transform="translate(121.7 244.4) scale(1.0 1.06)" fill="#202020" stroke="#202020" text-anchor="middle">Core</text>
<text transform="translate(121.7 288.4) scale(1.0 1.06)" fill="#202020" stroke="#202020" text-anchor="middle">[Cu<tspan font-size="17.3" dy="9.4">3</tspan><tspan dy="-9.4" font-size="1">&#8203;</tspan>(BTC)<tspan font-size="17.3" dy="9.4">2</tspan><tspan dy="-9.4" font-size="1">&#8203;</tspan>]</text>
<text transform="translate(828.4 250.5) scale(1.0 1.06)" fill="#202020" stroke="#202020" text-anchor="middle">Hollow</text>
<text transform="translate(827.6 293.0) scale(0.99 1.06)" fill="#202020" stroke="#202020" text-anchor="middle">NENU-3a</text>
<text transform="translate(475.5 490.6) scale(1.0 1.06)" fill="#ec1a22" stroke="#ec1a22" text-anchor="middle">Transition state</text>
<text transform="translate(3.2 899.6) scale(0.975 1.06)" fill="#202020" stroke="#202020" text-anchor="start">HPW</text>
<text transform="translate(102.6 788.3) scale(1.0 1.06)" fill="#202020" stroke="#202020" text-anchor="start">Cu(<tspan fill="#ec1a22" stroke="#ec1a22">NO</tspan><tspan font-size="17.3" dy="9.4" fill="#ec1a22" stroke="#ec1a22">3</tspan><tspan dy="-9.4" font-size="1">&#8203;</tspan>)<tspan font-size="17.3" dy="9.4">2</tspan><tspan dy="-9.4" font-size="1">&#8203;</tspan></text>
<text transform="translate(118.0 876.4) scale(1.01 1.06)" fill="#202020" stroke="#202020" text-anchor="start"><tspan fill="#ec1a22" stroke="#ec1a22">H</tspan><tspan font-size="17.3" dy="9.4" fill="#ec1a22" stroke="#ec1a22">3</tspan><tspan dy="-9.4" font-size="1">&#8203;</tspan>BTC</text>
<text transform="translate(889.4 976.2) scale(0.98 1.06)" fill="#202020" stroke="#202020" text-anchor="start">BTC<tspan font-size="16.7" dy="-10.4">3&#8722;</tspan></text>
<text transform="translate(282.4 886.6) rotate(-45) scale(1.0 1.06)" fill="#ec1a22" stroke="#ec1a22" text-anchor="start">HNO<tspan font-size="17.3" dy="9.4">3</tspan><tspan dy="-9.4" font-size="1">&#8203;</tspan></text>
</g>
</svg>
</body>
</html>
